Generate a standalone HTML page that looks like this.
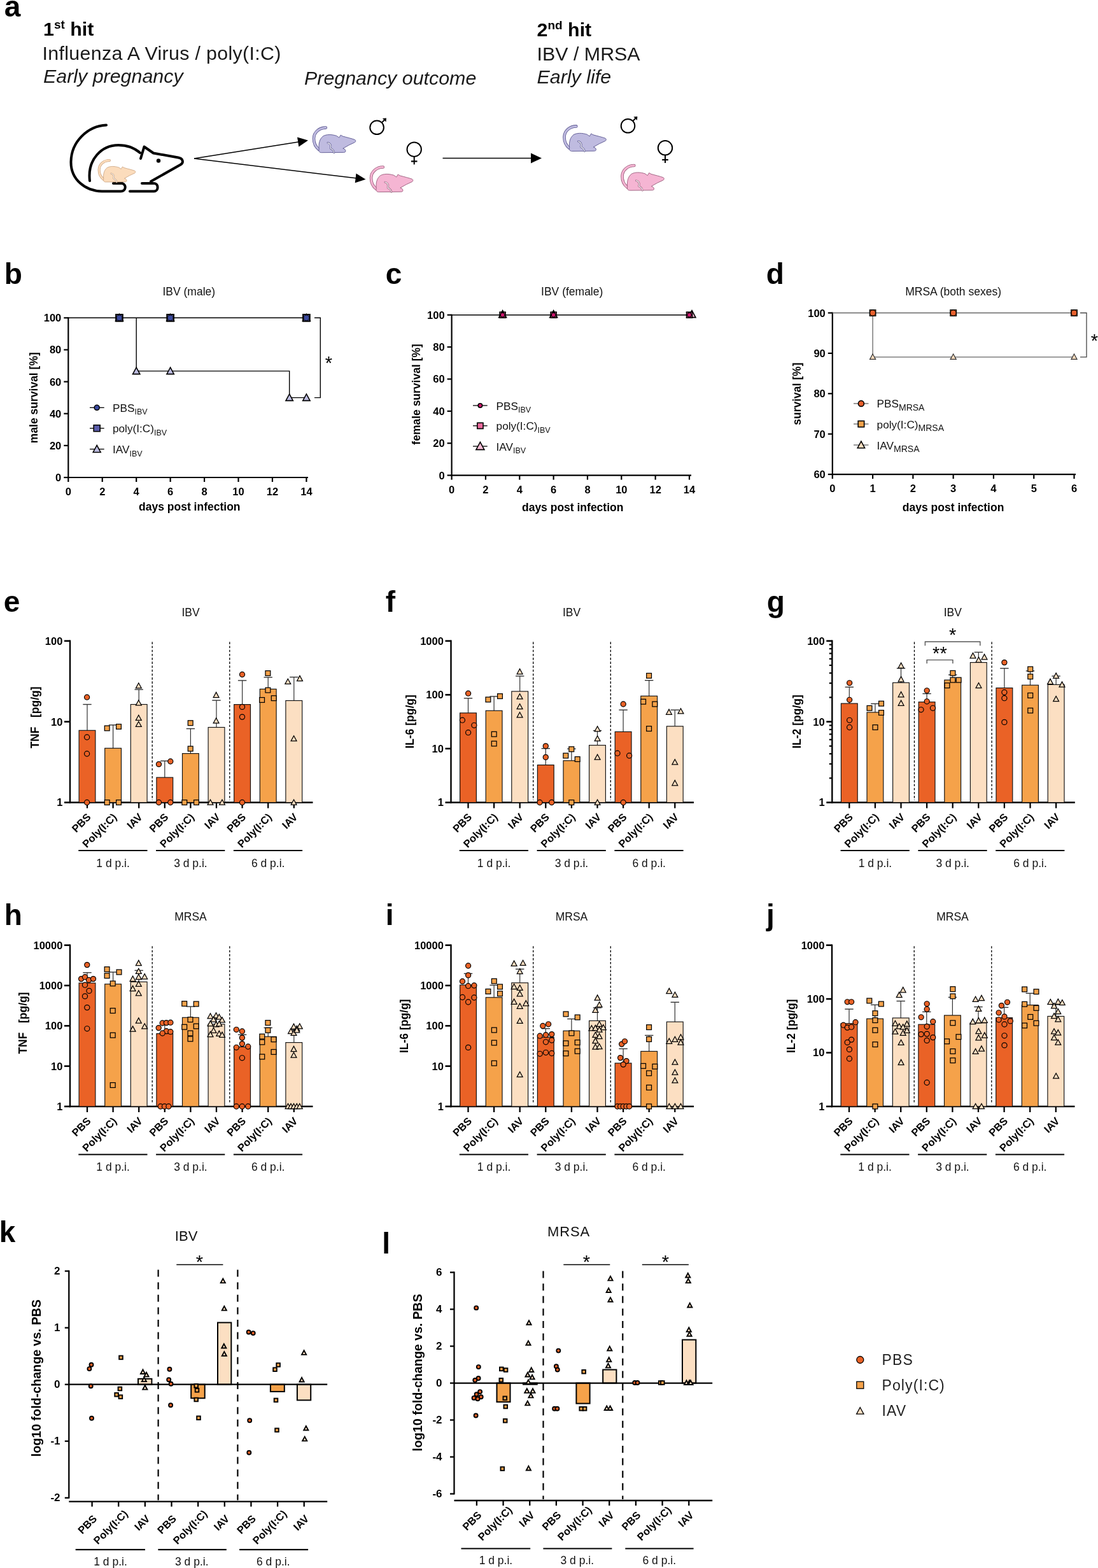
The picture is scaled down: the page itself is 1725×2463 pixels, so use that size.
<!DOCTYPE html>
<html><head><meta charset="utf-8"><title>Figure</title>
<style>
html,body{margin:0;padding:0;background:#fff;}
body{width:1725px;height:2463px;overflow:hidden;}
svg{display:block;}
text{white-space:pre;}
</style></head><body>
<svg width="1725" height="2463" viewBox="0 0 1725 2463" font-family="'Liberation Sans', Arial, sans-serif">
<rect x="0" y="0" width="1725" height="2463" fill="#fff"/>
<text x="6.8" y="26" font-size="46" font-weight="bold">a</text>
<text x="68" y="56" font-size="30.4" font-weight="bold">1<tspan font-size="19" dy="-11">st</tspan><tspan dy="11"> hit</tspan></text>
<text x="66.5" y="94" font-size="30.4" fill="#1a1a1a" letter-spacing="0.32">Influenza A Virus / poly(I:C)</text>
<text x="68" y="130" font-size="30.4" font-style="italic" fill="#1a1a1a">Early pregnancy</text>
<text x="478" y="132.6" font-size="30.4" font-style="italic" fill="#1a1a1a">Pregnancy outcome</text>
<text x="843.5" y="56.6" font-size="30.4" font-weight="bold">2<tspan font-size="19" dy="-11">nd</tspan><tspan dy="11"> hit</tspan></text>
<text x="843.5" y="94.6" font-size="30.4" fill="#1a1a1a">IBV / MRSA</text>
<text x="843.5" y="131" font-size="30.4" font-style="italic" fill="#1a1a1a">Early life</text>
<path d="M167,196.5 C138,198 112,222 111.5,254 C111,282 134,300 160,300.5 L190,300.5 C198,300.5 199,290 192,288 L178,288" fill="none" stroke="#000" stroke-width="4" stroke-linecap="round" stroke-linejoin="round"/>
<path d="M141,284 C137,250 160,228 186,228 C200,228 212,233 220,240" fill="none" stroke="#000" stroke-width="4" stroke-linecap="round" stroke-linejoin="round"/>
<path d="M221,249 L226.5,230.5 L241,240.5 L280,247.5 C288,249 289,256 283,259 L237,285" fill="none" stroke="#000" stroke-width="4" stroke-linecap="round" stroke-linejoin="round"/>
<path d="M223,288 L242,288 C249,288 250,300 242,300.5 L204,300.5" fill="none" stroke="#000" stroke-width="4" stroke-linecap="round" stroke-linejoin="round"/>
<circle cx="249" cy="252.5" r="3.2" fill="#000"/>
<g transform="translate(153 250) scale(0.87 0.87)"><path d="M21.8,2.2 C12,2.2 3.2,9 3,19 C2.9,27 6.5,33 11,36.4" fill="none" stroke="#C9A07C" stroke-width="4.6" stroke-linecap="round"/><path d="M21.8,2.2 C12,2.2 3.2,9 3,19 C2.9,27 6.5,33 11,36.4" fill="none" stroke="#FBDCBC" stroke-width="3.0" stroke-linecap="round"/><path d="M11.2,35.6 C10.2,27 12.2,19.8 17.4,15.6 C22.5,12.4 31,12.4 38.8,15 L42.8,17.8 L45.2,13.7 L48.4,15.6 C55,17.5 62,19 67.4,21 C69.4,22 69.2,24.6 66.6,25.6 L58.2,29.5 L48.8,34.8 C51.8,35.4 53.4,37.6 52.8,39.6 C52.3,40.7 51.4,41 49.8,41 L15.2,41.3 C12.2,41.3 10.2,39.6 11.2,35.6 Z" fill="#FBDCBC" stroke="#C9A07C" stroke-width="0.9"/><path d="M24.9,25.9 C27.5,26.5 29.5,28.5 29.8,31.2 L29.2,34.6 L32,36.4 C33.6,37.4 34.5,39 34.8,41.4" fill="none" stroke="#C9A07C" stroke-width="2.7" stroke-linecap="round" stroke-linejoin="round"/><path d="M24.9,25.9 C27.5,26.5 29.5,28.5 29.8,31.2 L29.2,34.6 L32,36.4 C33.6,37.4 34.5,39 34.8,41.4" fill="none" stroke="#f4f4f4" stroke-width="1.3" stroke-linecap="round" stroke-linejoin="round"/></g>
<g transform="translate(490 198.4) scale(1 1)"><path d="M21.8,2.2 C12,2.2 3.2,9 3,19 C2.9,27 6.5,33 11,36.4" fill="none" stroke="#5A5690" stroke-width="4.6" stroke-linecap="round"/><path d="M21.8,2.2 C12,2.2 3.2,9 3,19 C2.9,27 6.5,33 11,36.4" fill="none" stroke="#BFBBE0" stroke-width="3.0" stroke-linecap="round"/><path d="M11.2,35.6 C10.2,27 12.2,19.8 17.4,15.6 C22.5,12.4 31,12.4 38.8,15 L42.8,17.8 L45.2,13.7 L48.4,15.6 C55,17.5 62,19 67.4,21 C69.4,22 69.2,24.6 66.6,25.6 L58.2,29.5 L48.8,34.8 C51.8,35.4 53.4,37.6 52.8,39.6 C52.3,40.7 51.4,41 49.8,41 L15.2,41.3 C12.2,41.3 10.2,39.6 11.2,35.6 Z" fill="#BFBBE0" stroke="#5A5690" stroke-width="0.9"/><path d="M24.9,25.9 C27.5,26.5 29.5,28.5 29.8,31.2 L29.2,34.6 L32,36.4 C33.6,37.4 34.5,39 34.8,41.4" fill="none" stroke="#5A5690" stroke-width="2.7" stroke-linecap="round" stroke-linejoin="round"/><path d="M24.9,25.9 C27.5,26.5 29.5,28.5 29.8,31.2 L29.2,34.6 L32,36.4 C33.6,37.4 34.5,39 34.8,41.4" fill="none" stroke="#f4f4f4" stroke-width="1.3" stroke-linecap="round" stroke-linejoin="round"/></g>
<g transform="translate(580 260.3) scale(1 1)"><path d="M21.8,2.2 C12,2.2 3.2,9 3,19 C2.9,27 6.5,33 11,36.4" fill="none" stroke="#9A5A7A" stroke-width="4.6" stroke-linecap="round"/><path d="M21.8,2.2 C12,2.2 3.2,9 3,19 C2.9,27 6.5,33 11,36.4" fill="none" stroke="#F5B5D3" stroke-width="3.0" stroke-linecap="round"/><path d="M11.2,35.6 C10.2,27 12.2,19.8 17.4,15.6 C22.5,12.4 31,12.4 38.8,15 L42.8,17.8 L45.2,13.7 L48.4,15.6 C55,17.5 62,19 67.4,21 C69.4,22 69.2,24.6 66.6,25.6 L58.2,29.5 L48.8,34.8 C51.8,35.4 53.4,37.6 52.8,39.6 C52.3,40.7 51.4,41 49.8,41 L15.2,41.3 C12.2,41.3 10.2,39.6 11.2,35.6 Z" fill="#F5B5D3" stroke="#9A5A7A" stroke-width="0.9"/><path d="M24.9,25.9 C27.5,26.5 29.5,28.5 29.8,31.2 L29.2,34.6 L32,36.4 C33.6,37.4 34.5,39 34.8,41.4" fill="none" stroke="#9A5A7A" stroke-width="2.7" stroke-linecap="round" stroke-linejoin="round"/><path d="M24.9,25.9 C27.5,26.5 29.5,28.5 29.8,31.2 L29.2,34.6 L32,36.4 C33.6,37.4 34.5,39 34.8,41.4" fill="none" stroke="#f4f4f4" stroke-width="1.3" stroke-linecap="round" stroke-linejoin="round"/></g>
<g transform="translate(883.5 196.2) scale(1 1)"><path d="M21.8,2.2 C12,2.2 3.2,9 3,19 C2.9,27 6.5,33 11,36.4" fill="none" stroke="#5A5690" stroke-width="4.6" stroke-linecap="round"/><path d="M21.8,2.2 C12,2.2 3.2,9 3,19 C2.9,27 6.5,33 11,36.4" fill="none" stroke="#BFBBE0" stroke-width="3.0" stroke-linecap="round"/><path d="M11.2,35.6 C10.2,27 12.2,19.8 17.4,15.6 C22.5,12.4 31,12.4 38.8,15 L42.8,17.8 L45.2,13.7 L48.4,15.6 C55,17.5 62,19 67.4,21 C69.4,22 69.2,24.6 66.6,25.6 L58.2,29.5 L48.8,34.8 C51.8,35.4 53.4,37.6 52.8,39.6 C52.3,40.7 51.4,41 49.8,41 L15.2,41.3 C12.2,41.3 10.2,39.6 11.2,35.6 Z" fill="#BFBBE0" stroke="#5A5690" stroke-width="0.9"/><path d="M24.9,25.9 C27.5,26.5 29.5,28.5 29.8,31.2 L29.2,34.6 L32,36.4 C33.6,37.4 34.5,39 34.8,41.4" fill="none" stroke="#5A5690" stroke-width="2.7" stroke-linecap="round" stroke-linejoin="round"/><path d="M24.9,25.9 C27.5,26.5 29.5,28.5 29.8,31.2 L29.2,34.6 L32,36.4 C33.6,37.4 34.5,39 34.8,41.4" fill="none" stroke="#f4f4f4" stroke-width="1.3" stroke-linecap="round" stroke-linejoin="round"/></g>
<g transform="translate(974.5 257.8) scale(1 1)"><path d="M21.8,2.2 C12,2.2 3.2,9 3,19 C2.9,27 6.5,33 11,36.4" fill="none" stroke="#9A5A7A" stroke-width="4.6" stroke-linecap="round"/><path d="M21.8,2.2 C12,2.2 3.2,9 3,19 C2.9,27 6.5,33 11,36.4" fill="none" stroke="#F5B5D3" stroke-width="3.0" stroke-linecap="round"/><path d="M11.2,35.6 C10.2,27 12.2,19.8 17.4,15.6 C22.5,12.4 31,12.4 38.8,15 L42.8,17.8 L45.2,13.7 L48.4,15.6 C55,17.5 62,19 67.4,21 C69.4,22 69.2,24.6 66.6,25.6 L58.2,29.5 L48.8,34.8 C51.8,35.4 53.4,37.6 52.8,39.6 C52.3,40.7 51.4,41 49.8,41 L15.2,41.3 C12.2,41.3 10.2,39.6 11.2,35.6 Z" fill="#F5B5D3" stroke="#9A5A7A" stroke-width="0.9"/><path d="M24.9,25.9 C27.5,26.5 29.5,28.5 29.8,31.2 L29.2,34.6 L32,36.4 C33.6,37.4 34.5,39 34.8,41.4" fill="none" stroke="#9A5A7A" stroke-width="2.7" stroke-linecap="round" stroke-linejoin="round"/><path d="M24.9,25.9 C27.5,26.5 29.5,28.5 29.8,31.2 L29.2,34.6 L32,36.4 C33.6,37.4 34.5,39 34.8,41.4" fill="none" stroke="#f4f4f4" stroke-width="1.3" stroke-linecap="round" stroke-linejoin="round"/></g>
<line x1="305" y1="249" x2="470.17" y2="222.7" stroke="#000" stroke-width="1.5"/>
<polygon points="484,220.5 469.38,230.42 467.02,215.61" fill="#000"/>
<line x1="305" y1="249" x2="560.6" y2="280.11" stroke="#000" stroke-width="1.5"/>
<polygon points="574.5,281.8 557.71,287.31 559.52,272.42" fill="#000"/>
<line x1="695.5" y1="248.4" x2="836" y2="248.4" stroke="#000" stroke-width="1.5"/>
<polygon points="851,248.4 834,256.4 834,240.4" fill="#000"/>
<circle cx="592.1" cy="200.3" r="10.8" fill="none" stroke="#000" stroke-width="2"/>
<line x1="599.74" y1="192.66" x2="603.95" y2="188.45" stroke="#000" stroke-width="2"/>
<polygon points="606.95,185.45 600.95,185.95 606.45,191.45" fill="#000"/>
<circle cx="650.7" cy="234.7" r="11.2" fill="none" stroke="#000" stroke-width="2"/>
<line x1="650.7" y1="245.9" x2="650.7" y2="258.4" stroke="#000" stroke-width="2"/>
<line x1="645.9" y1="253.4" x2="655.5" y2="253.4" stroke="#000" stroke-width="2.2"/>
<circle cx="986.5" cy="197.8" r="10.8" fill="none" stroke="#000" stroke-width="2"/>
<line x1="994.14" y1="190.16" x2="998.35" y2="185.95" stroke="#000" stroke-width="2"/>
<polygon points="1001.35,182.95 995.35,183.45 1000.85,188.95" fill="#000"/>
<circle cx="1045" cy="232.3" r="11.2" fill="none" stroke="#000" stroke-width="2"/>
<line x1="1045" y1="243.5" x2="1045" y2="256" stroke="#000" stroke-width="2"/>
<line x1="1040.2" y1="251" x2="1049.8" y2="251" stroke="#000" stroke-width="2.2"/>
<text x="6.8" y="446.3" font-size="46" font-weight="bold">b</text>
<line x1="107.3" y1="498.3" x2="107.3" y2="751" stroke="#000" stroke-width="2.2"/>
<line x1="106.3" y1="750" x2="484" y2="750" stroke="#000" stroke-width="2.2"/>
<line x1="100.3" y1="750" x2="107.3" y2="750" stroke="#000" stroke-width="2.2"/>
<text x="96.3" y="756" font-size="16.5" font-weight="bold" text-anchor="end">0</text>
<line x1="100.3" y1="699.86" x2="107.3" y2="699.86" stroke="#000" stroke-width="2.2"/>
<text x="96.3" y="705.86" font-size="16.5" font-weight="bold" text-anchor="end">20</text>
<line x1="100.3" y1="649.72" x2="107.3" y2="649.72" stroke="#000" stroke-width="2.2"/>
<text x="96.3" y="655.72" font-size="16.5" font-weight="bold" text-anchor="end">40</text>
<line x1="100.3" y1="599.58" x2="107.3" y2="599.58" stroke="#000" stroke-width="2.2"/>
<text x="96.3" y="605.58" font-size="16.5" font-weight="bold" text-anchor="end">60</text>
<line x1="100.3" y1="549.44" x2="107.3" y2="549.44" stroke="#000" stroke-width="2.2"/>
<text x="96.3" y="555.44" font-size="16.5" font-weight="bold" text-anchor="end">80</text>
<line x1="100.3" y1="499.3" x2="107.3" y2="499.3" stroke="#000" stroke-width="2.2"/>
<text x="96.3" y="505.3" font-size="16.5" font-weight="bold" text-anchor="end">100</text>
<line x1="107.3" y1="750" x2="107.3" y2="757" stroke="#000" stroke-width="2.2"/>
<text x="107.3" y="778" font-size="16.5" font-weight="bold" text-anchor="middle">0</text>
<line x1="160.74" y1="750" x2="160.74" y2="757" stroke="#000" stroke-width="2.2"/>
<text x="160.74" y="778" font-size="16.5" font-weight="bold" text-anchor="middle">2</text>
<line x1="214.19" y1="750" x2="214.19" y2="757" stroke="#000" stroke-width="2.2"/>
<text x="214.19" y="778" font-size="16.5" font-weight="bold" text-anchor="middle">4</text>
<line x1="267.63" y1="750" x2="267.63" y2="757" stroke="#000" stroke-width="2.2"/>
<text x="267.63" y="778" font-size="16.5" font-weight="bold" text-anchor="middle">6</text>
<line x1="321.07" y1="750" x2="321.07" y2="757" stroke="#000" stroke-width="2.2"/>
<text x="321.07" y="778" font-size="16.5" font-weight="bold" text-anchor="middle">8</text>
<line x1="374.51" y1="750" x2="374.51" y2="757" stroke="#000" stroke-width="2.2"/>
<text x="374.51" y="778" font-size="16.5" font-weight="bold" text-anchor="middle">10</text>
<line x1="427.96" y1="750" x2="427.96" y2="757" stroke="#000" stroke-width="2.2"/>
<text x="427.96" y="778" font-size="16.5" font-weight="bold" text-anchor="middle">12</text>
<line x1="481.4" y1="750" x2="481.4" y2="757" stroke="#000" stroke-width="2.2"/>
<text x="481.4" y="778" font-size="16.5" font-weight="bold" text-anchor="middle">14</text>
<text x="59" y="624.7" font-size="17.5" font-weight="bold" text-anchor="middle" transform="rotate(-90 59 624.7)">male survival [%]</text>
<text x="296.8" y="464.4" font-size="17.5" text-anchor="middle" fill="#111">IBV (male)</text>
<text x="297.8" y="802.3" font-size="17.5" font-weight="bold" text-anchor="middle">days post infection</text>
<line x1="107.3" y1="499.3" x2="481.4" y2="499.3" stroke="#000" stroke-width="1.4"/>
<path d="M214.19,499.3 L214.19,582.86 L454.68,582.86 L454.68,624.65 L481.4,624.65 L481.4,624.65" fill="none" stroke="#000" stroke-width="1.4"/>
<polygon points="187.46,493.25 193.4,504.25 181.52,504.25" fill="#BDBCE0" stroke="#000" stroke-width="1.5" stroke-linejoin="miter"/>
<rect x="182.21" y="494.05" width="10.5" height="10.5" fill="#5B5DAA" stroke="#000" stroke-width="2.2"/>
<circle cx="187.46" cy="499.3" r="4.3" fill="#3B4A9E" stroke="#000" stroke-width="0.8"/>
<polygon points="267.63,493.25 273.57,504.25 261.69,504.25" fill="#BDBCE0" stroke="#000" stroke-width="1.5" stroke-linejoin="miter"/>
<rect x="262.38" y="494.05" width="10.5" height="10.5" fill="#5B5DAA" stroke="#000" stroke-width="2.2"/>
<circle cx="267.63" cy="499.3" r="4.3" fill="#3B4A9E" stroke="#000" stroke-width="0.8"/>
<polygon points="481.4,493.25 487.34,504.25 475.46,504.25" fill="#BDBCE0" stroke="#000" stroke-width="1.5" stroke-linejoin="miter"/>
<rect x="476.15" y="494.05" width="10.5" height="10.5" fill="#5B5DAA" stroke="#000" stroke-width="2.2"/>
<circle cx="481.4" cy="499.3" r="4.3" fill="#3B4A9E" stroke="#000" stroke-width="0.8"/>
<polygon points="214.19,577.08 219.86,587.58 208.52,587.58" fill="#BDBCE0" stroke="#000" stroke-width="1.6" stroke-linejoin="miter"/>
<polygon points="267.63,577.08 273.3,587.58 261.96,587.58" fill="#BDBCE0" stroke="#000" stroke-width="1.6" stroke-linejoin="miter"/>
<polygon points="454.68,618.88 460.35,629.38 449.01,629.38" fill="#BDBCE0" stroke="#000" stroke-width="1.6" stroke-linejoin="miter"/>
<polygon points="481.4,618.88 487.07,629.38 475.73,629.38" fill="#BDBCE0" stroke="#000" stroke-width="1.6" stroke-linejoin="miter"/>
<path d="M494,499.3 L503.3,499.3 L503.3,624.65 L494,624.65" fill="none" stroke="#000" stroke-width="1.4"/>
<text x="516.5" y="580" font-size="29" text-anchor="middle">*</text>
<line x1="141" y1="640.3" x2="163.7" y2="640.3" stroke="#000" stroke-width="1.3"/>
<circle cx="152.2" cy="640.3" r="4" fill="#3B4A9E" stroke="#000" stroke-width="1.6"/>
<text x="177" y="646.8" font-size="17.2" fill="#111">PBS<tspan font-size="12.5" dy="4.5">IBV</tspan></text>
<line x1="141" y1="672.7" x2="163.7" y2="672.7" stroke="#000" stroke-width="1.3"/>
<rect x="147.2" y="667.7" width="10" height="10" fill="#5B5DAA" stroke="#000" stroke-width="1.6"/>
<text x="177" y="679.2" font-size="17.2" fill="#111">poly(I:C)<tspan font-size="12.5" dy="4.5">IBV</tspan></text>
<line x1="141" y1="705.5" x2="163.7" y2="705.5" stroke="#000" stroke-width="1.3"/>
<polygon points="152.2,699.45 158.14,710.45 146.26,710.45" fill="#BDBCE0" stroke="#000" stroke-width="1.6" stroke-linejoin="miter"/>
<text x="177" y="712" font-size="17.2" fill="#111">IAV<tspan font-size="12.5" dy="4.5">IBV</tspan></text>
<text x="605.8" y="445.6" font-size="46" font-weight="bold">c</text>
<line x1="709.6" y1="493.7" x2="709.6" y2="747.6" stroke="#000" stroke-width="2.2"/>
<line x1="708.6" y1="746.6" x2="1086" y2="746.6" stroke="#000" stroke-width="2.2"/>
<line x1="702.6" y1="746.6" x2="709.6" y2="746.6" stroke="#000" stroke-width="2.2"/>
<text x="698.6" y="752.6" font-size="16.5" font-weight="bold" text-anchor="end">0</text>
<line x1="702.6" y1="696.22" x2="709.6" y2="696.22" stroke="#000" stroke-width="2.2"/>
<text x="698.6" y="702.22" font-size="16.5" font-weight="bold" text-anchor="end">20</text>
<line x1="702.6" y1="645.84" x2="709.6" y2="645.84" stroke="#000" stroke-width="2.2"/>
<text x="698.6" y="651.84" font-size="16.5" font-weight="bold" text-anchor="end">40</text>
<line x1="702.6" y1="595.46" x2="709.6" y2="595.46" stroke="#000" stroke-width="2.2"/>
<text x="698.6" y="601.46" font-size="16.5" font-weight="bold" text-anchor="end">60</text>
<line x1="702.6" y1="545.08" x2="709.6" y2="545.08" stroke="#000" stroke-width="2.2"/>
<text x="698.6" y="551.08" font-size="16.5" font-weight="bold" text-anchor="end">80</text>
<line x1="702.6" y1="494.7" x2="709.6" y2="494.7" stroke="#000" stroke-width="2.2"/>
<text x="698.6" y="500.7" font-size="16.5" font-weight="bold" text-anchor="end">100</text>
<line x1="709.6" y1="746.6" x2="709.6" y2="753.6" stroke="#000" stroke-width="2.2"/>
<text x="709.6" y="774.6" font-size="16.5" font-weight="bold" text-anchor="middle">0</text>
<line x1="762.94" y1="746.6" x2="762.94" y2="753.6" stroke="#000" stroke-width="2.2"/>
<text x="762.94" y="774.6" font-size="16.5" font-weight="bold" text-anchor="middle">2</text>
<line x1="816.29" y1="746.6" x2="816.29" y2="753.6" stroke="#000" stroke-width="2.2"/>
<text x="816.29" y="774.6" font-size="16.5" font-weight="bold" text-anchor="middle">4</text>
<line x1="869.63" y1="746.6" x2="869.63" y2="753.6" stroke="#000" stroke-width="2.2"/>
<text x="869.63" y="774.6" font-size="16.5" font-weight="bold" text-anchor="middle">6</text>
<line x1="922.97" y1="746.6" x2="922.97" y2="753.6" stroke="#000" stroke-width="2.2"/>
<text x="922.97" y="774.6" font-size="16.5" font-weight="bold" text-anchor="middle">8</text>
<line x1="976.31" y1="746.6" x2="976.31" y2="753.6" stroke="#000" stroke-width="2.2"/>
<text x="976.31" y="774.6" font-size="16.5" font-weight="bold" text-anchor="middle">10</text>
<line x1="1029.66" y1="746.6" x2="1029.66" y2="753.6" stroke="#000" stroke-width="2.2"/>
<text x="1029.66" y="774.6" font-size="16.5" font-weight="bold" text-anchor="middle">12</text>
<line x1="1083" y1="746.6" x2="1083" y2="753.6" stroke="#000" stroke-width="2.2"/>
<text x="1083" y="774.6" font-size="16.5" font-weight="bold" text-anchor="middle">14</text>
<text x="660.5" y="619.4" font-size="17.5" font-weight="bold" text-anchor="middle" transform="rotate(-90 660.5 619.4)">female survival [%]</text>
<text x="898.7" y="464.4" font-size="17.5" text-anchor="middle" fill="#111">IBV (female)</text>
<text x="899.7" y="803" font-size="17.5" font-weight="bold" text-anchor="middle">days post infection</text>
<line x1="709.6" y1="494.7" x2="1083" y2="494.7" stroke="#000" stroke-width="1.4"/>
<polygon points="789.61,487.65 795.55,498.65 783.67,498.65" fill="#F6BCD5" stroke="#000" stroke-width="1.6" stroke-linejoin="miter"/>
<rect x="785.11" y="490.2" width="9" height="9" fill="#EC6A9D" stroke="#000" stroke-width="1.6"/>
<circle cx="789.61" cy="494.7" r="3.25" fill="#D0176F" stroke="#000" stroke-width="1.2"/>
<polygon points="869.63,487.65 875.57,498.65 863.69,498.65" fill="#F6BCD5" stroke="#000" stroke-width="1.6" stroke-linejoin="miter"/>
<rect x="865.13" y="490.2" width="9" height="9" fill="#EC6A9D" stroke="#000" stroke-width="1.6"/>
<circle cx="869.63" cy="494.7" r="3.25" fill="#D0176F" stroke="#000" stroke-width="1.2"/>
<polygon points="1087,487.65 1092.94,498.65 1081.06,498.65" fill="#F6BCD5" stroke="#000" stroke-width="1.6" stroke-linejoin="miter"/>
<rect x="1078.5" y="490.2" width="9" height="9" fill="#EC6A9D" stroke="#000" stroke-width="1.6"/>
<circle cx="1083" cy="494.7" r="3.25" fill="#D0176F" stroke="#000" stroke-width="1.2"/>
<line x1="743" y1="637" x2="765.7" y2="637" stroke="#000" stroke-width="1.3"/>
<circle cx="754.4" cy="637" r="3.25" fill="#D0176F" stroke="#000" stroke-width="1.6"/>
<text x="779.6" y="643.5" font-size="17.2" fill="#111">PBS<tspan font-size="12.5" dy="4.5">IBV</tspan></text>
<line x1="743" y1="668.8" x2="765.7" y2="668.8" stroke="#000" stroke-width="1.3"/>
<rect x="749.8" y="664.2" width="9.2" height="9.2" fill="#EC6A9D" stroke="#000" stroke-width="1.6"/>
<text x="779.6" y="675.3" font-size="17.2" fill="#111">poly(I:C)<tspan font-size="12.5" dy="4.5">IBV</tspan></text>
<line x1="743" y1="701" x2="765.7" y2="701" stroke="#000" stroke-width="1.3"/>
<polygon points="754.4,694.4 760.88,706.4 747.92,706.4" fill="#F6BCD5" stroke="#000" stroke-width="1.6" stroke-linejoin="miter"/>
<text x="779.6" y="707.5" font-size="17.2" fill="#111">IAV<tspan font-size="12.5" dy="4.5">IBV</tspan></text>
<text x="1203.8" y="446" font-size="46" font-weight="bold">d</text>
<line x1="1307.8" y1="490.5" x2="1307.8" y2="746.1" stroke="#000" stroke-width="2.2"/>
<line x1="1306.8" y1="745.1" x2="1690" y2="745.1" stroke="#000" stroke-width="2.2"/>
<line x1="1300.8" y1="745.1" x2="1307.8" y2="745.1" stroke="#000" stroke-width="2.2"/>
<text x="1296.8" y="751.1" font-size="16.5" font-weight="bold" text-anchor="end">60</text>
<line x1="1300.8" y1="681.7" x2="1307.8" y2="681.7" stroke="#000" stroke-width="2.2"/>
<text x="1296.8" y="687.7" font-size="16.5" font-weight="bold" text-anchor="end">70</text>
<line x1="1300.8" y1="618.3" x2="1307.8" y2="618.3" stroke="#000" stroke-width="2.2"/>
<text x="1296.8" y="624.3" font-size="16.5" font-weight="bold" text-anchor="end">80</text>
<line x1="1300.8" y1="554.9" x2="1307.8" y2="554.9" stroke="#000" stroke-width="2.2"/>
<text x="1296.8" y="560.9" font-size="16.5" font-weight="bold" text-anchor="end">90</text>
<line x1="1300.8" y1="491.5" x2="1307.8" y2="491.5" stroke="#000" stroke-width="2.2"/>
<text x="1296.8" y="497.5" font-size="16.5" font-weight="bold" text-anchor="end">100</text>
<line x1="1307.8" y1="745.1" x2="1307.8" y2="752.1" stroke="#000" stroke-width="2.2"/>
<text x="1307.8" y="773.1" font-size="16.5" font-weight="bold" text-anchor="middle">0</text>
<line x1="1371.08" y1="745.1" x2="1371.08" y2="752.1" stroke="#000" stroke-width="2.2"/>
<text x="1371.08" y="773.1" font-size="16.5" font-weight="bold" text-anchor="middle">1</text>
<line x1="1434.37" y1="745.1" x2="1434.37" y2="752.1" stroke="#000" stroke-width="2.2"/>
<text x="1434.37" y="773.1" font-size="16.5" font-weight="bold" text-anchor="middle">2</text>
<line x1="1497.65" y1="745.1" x2="1497.65" y2="752.1" stroke="#000" stroke-width="2.2"/>
<text x="1497.65" y="773.1" font-size="16.5" font-weight="bold" text-anchor="middle">3</text>
<line x1="1560.93" y1="745.1" x2="1560.93" y2="752.1" stroke="#000" stroke-width="2.2"/>
<text x="1560.93" y="773.1" font-size="16.5" font-weight="bold" text-anchor="middle">4</text>
<line x1="1624.22" y1="745.1" x2="1624.22" y2="752.1" stroke="#000" stroke-width="2.2"/>
<text x="1624.22" y="773.1" font-size="16.5" font-weight="bold" text-anchor="middle">5</text>
<line x1="1687.5" y1="745.1" x2="1687.5" y2="752.1" stroke="#000" stroke-width="2.2"/>
<text x="1687.5" y="773.1" font-size="16.5" font-weight="bold" text-anchor="middle">6</text>
<text x="1258.5" y="618.6" font-size="17.5" font-weight="bold" text-anchor="middle" transform="rotate(-90 1258.5 618.6)">survival [%]</text>
<text x="1497.6" y="464.4" font-size="17.5" text-anchor="middle" fill="#111">MRSA (both sexes)</text>
<text x="1497.6" y="802.7" font-size="17.5" font-weight="bold" text-anchor="middle">days post infection</text>
<line x1="1307.8" y1="491.5" x2="1687.5" y2="491.5" stroke="#666" stroke-width="1.3"/>
<path d="M1371.08,491.5 L1371.08,560.92 L1687.5,560.92" fill="none" stroke="#666" stroke-width="1.3"/>
<rect x="1366.33" y="486.75" width="9.5" height="9.5" fill="#F5A24A" stroke="#000" stroke-width="1.3"/>
<circle cx="1371.08" cy="491.5" r="4.5" fill="#E8602C" stroke="#000" stroke-width="1.2"/>
<polygon points="1371.08,556 1375.62,564.4 1366.55,564.4" fill="#FBDDBF" stroke="#333" stroke-width="1.2" stroke-linejoin="miter"/>
<rect x="1492.9" y="486.75" width="9.5" height="9.5" fill="#F5A24A" stroke="#000" stroke-width="1.3"/>
<circle cx="1497.65" cy="491.5" r="4.5" fill="#E8602C" stroke="#000" stroke-width="1.2"/>
<polygon points="1497.65,556 1502.19,564.4 1493.11,564.4" fill="#FBDDBF" stroke="#333" stroke-width="1.2" stroke-linejoin="miter"/>
<rect x="1682.75" y="486.75" width="9.5" height="9.5" fill="#F5A24A" stroke="#000" stroke-width="1.3"/>
<circle cx="1687.5" cy="491.5" r="4.5" fill="#E8602C" stroke="#000" stroke-width="1.2"/>
<polygon points="1687.5,556 1692.04,564.4 1682.96,564.4" fill="#FBDDBF" stroke="#333" stroke-width="1.2" stroke-linejoin="miter"/>
<path d="M1697,491.5 L1707,491.5 L1707,560.92 L1697,560.92" fill="none" stroke="#444" stroke-width="1.3"/>
<text x="1719.5" y="544.8" font-size="29" text-anchor="middle">*</text>
<line x1="1341" y1="633.9" x2="1364.5" y2="633.9" stroke="#555" stroke-width="1.2"/>
<circle cx="1352.9" cy="633.9" r="4.5" fill="#E8602C" stroke="#000" stroke-width="1.6"/>
<text x="1377.6" y="640.4" font-size="17.2" fill="#111">PBS<tspan font-size="14" dy="4.5">MRSA</tspan></text>
<line x1="1341" y1="666" x2="1364.5" y2="666" stroke="#555" stroke-width="1.2"/>
<rect x="1348.15" y="661.25" width="9.5" height="9.5" fill="#F5A24A" stroke="#000" stroke-width="1.6"/>
<text x="1377.6" y="672.5" font-size="17.2" fill="#111">poly(I:C)<tspan font-size="14" dy="4.5">MRSA</tspan></text>
<line x1="1341" y1="699" x2="1364.5" y2="699" stroke="#555" stroke-width="1.2"/>
<polygon points="1352.9,693.23 1358.57,703.73 1347.23,703.73" fill="#FBDDBF" stroke="#000" stroke-width="1.6" stroke-linejoin="miter"/>
<text x="1377.6" y="705.5" font-size="17.2" fill="#111">IAV<tspan font-size="14" dy="4.5">MRSA</tspan></text>
<text x="5.8" y="961.4" font-size="46" font-weight="bold">e</text>
<line x1="101" y1="1260.5" x2="110" y2="1260.5" stroke="#000" stroke-width="2.6"/>
<text x="98.4" y="1266.4" font-size="16.5" font-weight="bold" text-anchor="end">1</text>
<line x1="101" y1="1133.65" x2="110" y2="1133.65" stroke="#000" stroke-width="2.6"/>
<text x="98.4" y="1139.55" font-size="16.5" font-weight="bold" text-anchor="end">10</text>
<line x1="101" y1="1006.8" x2="110" y2="1006.8" stroke="#000" stroke-width="2.6"/>
<text x="98.4" y="1012.7" font-size="16.5" font-weight="bold" text-anchor="end">100</text>
<line x1="239.2" y1="1008.3" x2="239.2" y2="1257" stroke="#000" stroke-width="1.3" stroke-dasharray="3.6 2.6"/>
<line x1="360.8" y1="1008.3" x2="360.8" y2="1257" stroke="#000" stroke-width="1.3" stroke-dasharray="3.6 2.6"/>
<line x1="110" y1="1005.6" x2="110" y2="1261.7" stroke="#000" stroke-width="2.4"/>
<line x1="108.8" y1="1260.5" x2="491.5" y2="1260.5" stroke="#000" stroke-width="2.4"/>
<line x1="137" y1="1260.5" x2="137" y2="1269.5" stroke="#000" stroke-width="2.3"/>
<text x="143.7" y="1284.5" font-size="16.5" font-weight="bold" text-anchor="end" transform="rotate(-45 143.7 1284.5)">PBS</text>
<line x1="177.6" y1="1260.5" x2="177.6" y2="1269.5" stroke="#000" stroke-width="2.3"/>
<text x="184.3" y="1284.5" font-size="16.5" font-weight="bold" text-anchor="end" transform="rotate(-45 184.3 1284.5)">Poly(I:C)</text>
<line x1="218.2" y1="1260.5" x2="218.2" y2="1269.5" stroke="#000" stroke-width="2.3"/>
<text x="224.9" y="1284.5" font-size="16.5" font-weight="bold" text-anchor="end" transform="rotate(-45 224.9 1284.5)">IAV</text>
<line x1="258.8" y1="1260.5" x2="258.8" y2="1269.5" stroke="#000" stroke-width="2.3"/>
<text x="265.5" y="1284.5" font-size="16.5" font-weight="bold" text-anchor="end" transform="rotate(-45 265.5 1284.5)">PBS</text>
<line x1="299.4" y1="1260.5" x2="299.4" y2="1269.5" stroke="#000" stroke-width="2.3"/>
<text x="306.1" y="1284.5" font-size="16.5" font-weight="bold" text-anchor="end" transform="rotate(-45 306.1 1284.5)">Poly(I:C)</text>
<line x1="340" y1="1260.5" x2="340" y2="1269.5" stroke="#000" stroke-width="2.3"/>
<text x="346.7" y="1284.5" font-size="16.5" font-weight="bold" text-anchor="end" transform="rotate(-45 346.7 1284.5)">IAV</text>
<line x1="380.6" y1="1260.5" x2="380.6" y2="1269.5" stroke="#000" stroke-width="2.3"/>
<text x="387.3" y="1284.5" font-size="16.5" font-weight="bold" text-anchor="end" transform="rotate(-45 387.3 1284.5)">PBS</text>
<line x1="421.2" y1="1260.5" x2="421.2" y2="1269.5" stroke="#000" stroke-width="2.3"/>
<text x="427.9" y="1284.5" font-size="16.5" font-weight="bold" text-anchor="end" transform="rotate(-45 427.9 1284.5)">Poly(I:C)</text>
<line x1="461.8" y1="1260.5" x2="461.8" y2="1269.5" stroke="#000" stroke-width="2.3"/>
<text x="468.5" y="1284.5" font-size="16.5" font-weight="bold" text-anchor="end" transform="rotate(-45 468.5 1284.5)">IAV</text>
<line x1="137" y1="1147.3" x2="137" y2="1106.5" stroke="#333" stroke-width="1.2"/>
<line x1="130.3" y1="1106.5" x2="143.7" y2="1106.5" stroke="#333" stroke-width="1.4"/>
<rect x="124.1" y="1147.3" width="25.8" height="113.2" fill="#EA6226" stroke="#111" stroke-width="1.15"/>
<line x1="177.6" y1="1175.3" x2="177.6" y2="1138.8" stroke="#333" stroke-width="1.2"/>
<line x1="170.9" y1="1138.8" x2="184.3" y2="1138.8" stroke="#333" stroke-width="1.4"/>
<rect x="164.7" y="1175.3" width="25.8" height="85.2" fill="#F5A24A" stroke="#111" stroke-width="1.15"/>
<line x1="218.2" y1="1106.5" x2="218.2" y2="1083.1" stroke="#333" stroke-width="1.2"/>
<line x1="211.5" y1="1083.1" x2="224.9" y2="1083.1" stroke="#333" stroke-width="1.4"/>
<rect x="205.3" y="1106.5" width="25.8" height="154" fill="#FCDFC2" stroke="#111" stroke-width="1.15"/>
<line x1="258.8" y1="1221.2" x2="258.8" y2="1195.3" stroke="#333" stroke-width="1.2"/>
<line x1="252.1" y1="1195.3" x2="265.5" y2="1195.3" stroke="#333" stroke-width="1.4"/>
<rect x="245.9" y="1221.2" width="25.8" height="39.3" fill="#EA6226" stroke="#111" stroke-width="1.15"/>
<line x1="299.4" y1="1183.6" x2="299.4" y2="1144.6" stroke="#333" stroke-width="1.2"/>
<line x1="292.7" y1="1144.6" x2="306.1" y2="1144.6" stroke="#333" stroke-width="1.4"/>
<rect x="286.5" y="1183.6" width="25.8" height="76.9" fill="#F5A24A" stroke="#111" stroke-width="1.15"/>
<line x1="340" y1="1142.5" x2="340" y2="1100.1" stroke="#333" stroke-width="1.2"/>
<line x1="333.3" y1="1100.1" x2="346.7" y2="1100.1" stroke="#333" stroke-width="1.4"/>
<rect x="327.1" y="1142.5" width="25.8" height="118" fill="#FCDFC2" stroke="#111" stroke-width="1.15"/>
<line x1="380.6" y1="1106.6" x2="380.6" y2="1068.9" stroke="#333" stroke-width="1.2"/>
<line x1="373.9" y1="1068.9" x2="387.3" y2="1068.9" stroke="#333" stroke-width="1.4"/>
<rect x="367.7" y="1106.6" width="25.8" height="153.9" fill="#EA6226" stroke="#111" stroke-width="1.15"/>
<line x1="421.2" y1="1082.4" x2="421.2" y2="1063.9" stroke="#333" stroke-width="1.2"/>
<line x1="414.5" y1="1063.9" x2="427.9" y2="1063.9" stroke="#333" stroke-width="1.4"/>
<rect x="408.3" y="1082.4" width="25.8" height="178.1" fill="#F5A24A" stroke="#111" stroke-width="1.15"/>
<line x1="461.8" y1="1100.5" x2="461.8" y2="1063.6" stroke="#333" stroke-width="1.2"/>
<line x1="455.1" y1="1063.6" x2="468.5" y2="1063.6" stroke="#333" stroke-width="1.4"/>
<rect x="448.9" y="1100.5" width="25.8" height="160" fill="#FCDFC2" stroke="#111" stroke-width="1.15"/>
<circle cx="136.6" cy="1095.2" r="4.05" fill="#EA6226" stroke="#000" stroke-width="1.2"/>
<circle cx="136.6" cy="1158" r="4.05" fill="#EA6226" stroke="#000" stroke-width="1.2"/>
<circle cx="136.6" cy="1184" r="4.05" fill="#EA6226" stroke="#000" stroke-width="1.2"/>
<circle cx="136.6" cy="1260.5" r="4.05" fill="#EA6226" stroke="#000" stroke-width="1.2"/>
<rect x="164.3" y="1140" width="7.8" height="7.8" fill="#F5A24A" stroke="#000" stroke-width="1.25"/>
<rect x="182.6" y="1137.5" width="7.8" height="7.8" fill="#F5A24A" stroke="#000" stroke-width="1.25"/>
<rect x="164.3" y="1256.6" width="7.8" height="7.8" fill="#F5A24A" stroke="#000" stroke-width="1.25"/>
<rect x="182.6" y="1256.6" width="7.8" height="7.8" fill="#F5A24A" stroke="#000" stroke-width="1.25"/>
<polygon points="217.8,1072.69 222.23,1080.89 213.37,1080.89" fill="#FCDFC2" stroke="#000" stroke-width="1.25" stroke-linejoin="miter"/>
<polygon points="217.8,1099.79 222.23,1107.99 213.37,1107.99" fill="#FCDFC2" stroke="#000" stroke-width="1.25" stroke-linejoin="miter"/>
<polygon points="217.8,1123.19 222.23,1131.39 213.37,1131.39" fill="#FCDFC2" stroke="#000" stroke-width="1.25" stroke-linejoin="miter"/>
<polygon points="217.8,1133.29 222.23,1141.49 213.37,1141.49" fill="#FCDFC2" stroke="#000" stroke-width="1.25" stroke-linejoin="miter"/>
<circle cx="249.5" cy="1200.4" r="4.05" fill="#EA6226" stroke="#000" stroke-width="1.2"/>
<circle cx="267.8" cy="1196" r="4.05" fill="#EA6226" stroke="#000" stroke-width="1.2"/>
<circle cx="249.5" cy="1260.5" r="4.05" fill="#EA6226" stroke="#000" stroke-width="1.2"/>
<circle cx="267.8" cy="1260.5" r="4.05" fill="#EA6226" stroke="#000" stroke-width="1.2"/>
<rect x="295.3" y="1131.8" width="7.8" height="7.8" fill="#F5A24A" stroke="#000" stroke-width="1.25"/>
<rect x="295.3" y="1172.2" width="7.8" height="7.8" fill="#F5A24A" stroke="#000" stroke-width="1.25"/>
<rect x="285.9" y="1256.6" width="7.8" height="7.8" fill="#F5A24A" stroke="#000" stroke-width="1.25"/>
<rect x="304.6" y="1256.6" width="7.8" height="7.8" fill="#F5A24A" stroke="#000" stroke-width="1.25"/>
<polygon points="339.6,1087.39 344.03,1095.59 335.17,1095.59" fill="#FCDFC2" stroke="#000" stroke-width="1.25" stroke-linejoin="miter"/>
<polygon points="339.6,1127.79 344.03,1135.99 335.17,1135.99" fill="#FCDFC2" stroke="#000" stroke-width="1.25" stroke-linejoin="miter"/>
<polygon points="330.5,1255.99 334.93,1264.19 326.07,1264.19" fill="#FCDFC2" stroke="#000" stroke-width="1.25" stroke-linejoin="miter"/>
<polygon points="349,1255.99 353.43,1264.19 344.57,1264.19" fill="#FCDFC2" stroke="#000" stroke-width="1.25" stroke-linejoin="miter"/>
<circle cx="380.5" cy="1059.5" r="4.05" fill="#EA6226" stroke="#000" stroke-width="1.2"/>
<circle cx="380.5" cy="1110.4" r="4.05" fill="#EA6226" stroke="#000" stroke-width="1.2"/>
<circle cx="380.5" cy="1126.1" r="4.05" fill="#EA6226" stroke="#000" stroke-width="1.2"/>
<circle cx="380.5" cy="1260.5" r="4.05" fill="#EA6226" stroke="#000" stroke-width="1.2"/>
<rect x="417" y="1053.6" width="7.8" height="7.8" fill="#F5A24A" stroke="#000" stroke-width="1.25"/>
<rect x="417" y="1080.2" width="7.8" height="7.8" fill="#F5A24A" stroke="#000" stroke-width="1.25"/>
<rect x="407.7" y="1095.6" width="7.8" height="7.8" fill="#F5A24A" stroke="#000" stroke-width="1.25"/>
<rect x="426.3" y="1092.8" width="7.8" height="7.8" fill="#F5A24A" stroke="#000" stroke-width="1.25"/>
<polygon points="452.3,1066.19 456.73,1074.39 447.87,1074.39" fill="#FCDFC2" stroke="#000" stroke-width="1.25" stroke-linejoin="miter"/>
<polygon points="471,1061.39 475.43,1069.59 466.57,1069.59" fill="#FCDFC2" stroke="#000" stroke-width="1.25" stroke-linejoin="miter"/>
<polygon points="461.6,1155.79 466.03,1163.99 457.17,1163.99" fill="#FCDFC2" stroke="#000" stroke-width="1.25" stroke-linejoin="miter"/>
<polygon points="461.6,1255.99 466.03,1264.19 457.17,1264.19" fill="#FCDFC2" stroke="#000" stroke-width="1.25" stroke-linejoin="miter"/>
<line x1="123.3" y1="1336" x2="231.5" y2="1336" stroke="#000" stroke-width="2.2"/>
<text x="177.6" y="1361.8" font-size="17.5" text-anchor="middle" fill="#111">1 d p.i.</text>
<line x1="245.1" y1="1336" x2="353.3" y2="1336" stroke="#000" stroke-width="2.2"/>
<text x="299.4" y="1361.8" font-size="17.5" text-anchor="middle" fill="#111">3 d p.i.</text>
<line x1="366.9" y1="1336" x2="475.1" y2="1336" stroke="#000" stroke-width="2.2"/>
<text x="421.2" y="1361.8" font-size="17.5" text-anchor="middle" fill="#111">6 d p.i.</text>
<text x="60.5" y="1127" font-size="17.5" font-weight="bold" text-anchor="middle" transform="rotate(-90 60.5 1127)">TNF   [pg/g]</text>
<text x="299.5" y="967.8" font-size="17.5" text-anchor="middle" fill="#111">IBV</text>
<text x="605.8" y="961.4" font-size="46" font-weight="bold">f</text>
<line x1="699.5" y1="1260.5" x2="708.5" y2="1260.5" stroke="#000" stroke-width="2.6"/>
<text x="696.9" y="1266.4" font-size="16.5" font-weight="bold" text-anchor="end">1</text>
<line x1="699.5" y1="1175.93" x2="708.5" y2="1175.93" stroke="#000" stroke-width="2.6"/>
<text x="696.9" y="1181.83" font-size="16.5" font-weight="bold" text-anchor="end">10</text>
<line x1="699.5" y1="1091.37" x2="708.5" y2="1091.37" stroke="#000" stroke-width="2.6"/>
<text x="696.9" y="1097.27" font-size="16.5" font-weight="bold" text-anchor="end">100</text>
<line x1="699.5" y1="1006.8" x2="708.5" y2="1006.8" stroke="#000" stroke-width="2.6"/>
<text x="696.9" y="1012.7" font-size="16.5" font-weight="bold" text-anchor="end">1000</text>
<line x1="837.7" y1="1008.3" x2="837.7" y2="1257" stroke="#000" stroke-width="1.3" stroke-dasharray="3.6 2.6"/>
<line x1="959.3" y1="1008.3" x2="959.3" y2="1257" stroke="#000" stroke-width="1.3" stroke-dasharray="3.6 2.6"/>
<line x1="708.5" y1="1005.6" x2="708.5" y2="1261.7" stroke="#000" stroke-width="2.4"/>
<line x1="707.3" y1="1260.5" x2="1090" y2="1260.5" stroke="#000" stroke-width="2.4"/>
<line x1="735.5" y1="1260.5" x2="735.5" y2="1269.5" stroke="#000" stroke-width="2.3"/>
<text x="742.2" y="1284.5" font-size="16.5" font-weight="bold" text-anchor="end" transform="rotate(-45 742.2 1284.5)">PBS</text>
<line x1="776.1" y1="1260.5" x2="776.1" y2="1269.5" stroke="#000" stroke-width="2.3"/>
<text x="782.8" y="1284.5" font-size="16.5" font-weight="bold" text-anchor="end" transform="rotate(-45 782.8 1284.5)">Poly(I:C)</text>
<line x1="816.7" y1="1260.5" x2="816.7" y2="1269.5" stroke="#000" stroke-width="2.3"/>
<text x="823.4" y="1284.5" font-size="16.5" font-weight="bold" text-anchor="end" transform="rotate(-45 823.4 1284.5)">IAV</text>
<line x1="857.3" y1="1260.5" x2="857.3" y2="1269.5" stroke="#000" stroke-width="2.3"/>
<text x="864" y="1284.5" font-size="16.5" font-weight="bold" text-anchor="end" transform="rotate(-45 864 1284.5)">PBS</text>
<line x1="897.9" y1="1260.5" x2="897.9" y2="1269.5" stroke="#000" stroke-width="2.3"/>
<text x="904.6" y="1284.5" font-size="16.5" font-weight="bold" text-anchor="end" transform="rotate(-45 904.6 1284.5)">Poly(I:C)</text>
<line x1="938.5" y1="1260.5" x2="938.5" y2="1269.5" stroke="#000" stroke-width="2.3"/>
<text x="945.2" y="1284.5" font-size="16.5" font-weight="bold" text-anchor="end" transform="rotate(-45 945.2 1284.5)">IAV</text>
<line x1="979.1" y1="1260.5" x2="979.1" y2="1269.5" stroke="#000" stroke-width="2.3"/>
<text x="985.8" y="1284.5" font-size="16.5" font-weight="bold" text-anchor="end" transform="rotate(-45 985.8 1284.5)">PBS</text>
<line x1="1019.7" y1="1260.5" x2="1019.7" y2="1269.5" stroke="#000" stroke-width="2.3"/>
<text x="1026.4" y="1284.5" font-size="16.5" font-weight="bold" text-anchor="end" transform="rotate(-45 1026.4 1284.5)">Poly(I:C)</text>
<line x1="1060.3" y1="1260.5" x2="1060.3" y2="1269.5" stroke="#000" stroke-width="2.3"/>
<text x="1067" y="1284.5" font-size="16.5" font-weight="bold" text-anchor="end" transform="rotate(-45 1067 1284.5)">IAV</text>
<line x1="735.5" y1="1119.9" x2="735.5" y2="1096.8" stroke="#333" stroke-width="1.2"/>
<line x1="728.8" y1="1096.8" x2="742.2" y2="1096.8" stroke="#333" stroke-width="1.4"/>
<rect x="722.6" y="1119.9" width="25.8" height="140.6" fill="#EA6226" stroke="#111" stroke-width="1.15"/>
<line x1="776.1" y1="1116.3" x2="776.1" y2="1093.9" stroke="#333" stroke-width="1.2"/>
<line x1="769.4" y1="1093.9" x2="782.8" y2="1093.9" stroke="#333" stroke-width="1.4"/>
<rect x="763.2" y="1116.3" width="25.8" height="144.2" fill="#F5A24A" stroke="#111" stroke-width="1.15"/>
<line x1="816.7" y1="1086" x2="816.7" y2="1062" stroke="#333" stroke-width="1.2"/>
<line x1="810" y1="1062" x2="823.4" y2="1062" stroke="#333" stroke-width="1.4"/>
<rect x="803.8" y="1086" width="25.8" height="174.5" fill="#FCDFC2" stroke="#111" stroke-width="1.15"/>
<line x1="857.3" y1="1201.6" x2="857.3" y2="1175.7" stroke="#333" stroke-width="1.2"/>
<line x1="850.6" y1="1175.7" x2="864" y2="1175.7" stroke="#333" stroke-width="1.4"/>
<rect x="844.4" y="1201.6" width="25.8" height="58.9" fill="#EA6226" stroke="#111" stroke-width="1.15"/>
<line x1="897.9" y1="1194.8" x2="897.9" y2="1176.3" stroke="#333" stroke-width="1.2"/>
<line x1="891.2" y1="1176.3" x2="904.6" y2="1176.3" stroke="#333" stroke-width="1.4"/>
<rect x="885" y="1194.8" width="25.8" height="65.7" fill="#F5A24A" stroke="#111" stroke-width="1.15"/>
<line x1="938.5" y1="1170.6" x2="938.5" y2="1147.6" stroke="#333" stroke-width="1.2"/>
<line x1="931.8" y1="1147.6" x2="945.2" y2="1147.6" stroke="#333" stroke-width="1.4"/>
<rect x="925.6" y="1170.6" width="25.8" height="89.9" fill="#FCDFC2" stroke="#111" stroke-width="1.15"/>
<line x1="979.1" y1="1149.4" x2="979.1" y2="1115.2" stroke="#333" stroke-width="1.2"/>
<line x1="972.4" y1="1115.2" x2="985.8" y2="1115.2" stroke="#333" stroke-width="1.4"/>
<rect x="966.2" y="1149.4" width="25.8" height="111.1" fill="#EA6226" stroke="#111" stroke-width="1.15"/>
<line x1="1019.7" y1="1093.3" x2="1019.7" y2="1068.7" stroke="#333" stroke-width="1.2"/>
<line x1="1013" y1="1068.7" x2="1026.4" y2="1068.7" stroke="#333" stroke-width="1.4"/>
<rect x="1006.8" y="1093.3" width="25.8" height="167.2" fill="#F5A24A" stroke="#111" stroke-width="1.15"/>
<line x1="1060.3" y1="1140.8" x2="1060.3" y2="1115.2" stroke="#333" stroke-width="1.2"/>
<line x1="1053.6" y1="1115.2" x2="1067" y2="1115.2" stroke="#333" stroke-width="1.4"/>
<rect x="1047.4" y="1140.8" width="25.8" height="119.7" fill="#FCDFC2" stroke="#111" stroke-width="1.15"/>
<circle cx="735.6" cy="1089.2" r="4.05" fill="#EA6226" stroke="#000" stroke-width="1.2"/>
<circle cx="726.4" cy="1131.2" r="4.05" fill="#EA6226" stroke="#000" stroke-width="1.2"/>
<circle cx="744.9" cy="1139.3" r="4.05" fill="#EA6226" stroke="#000" stroke-width="1.2"/>
<circle cx="735.6" cy="1150.7" r="4.05" fill="#EA6226" stroke="#000" stroke-width="1.2"/>
<rect x="763" y="1095" width="7.8" height="7.8" fill="#F5A24A" stroke="#000" stroke-width="1.25"/>
<rect x="781.6" y="1089.7" width="7.8" height="7.8" fill="#F5A24A" stroke="#000" stroke-width="1.25"/>
<rect x="772.3" y="1149.3" width="7.8" height="7.8" fill="#F5A24A" stroke="#000" stroke-width="1.25"/>
<rect x="772.3" y="1164.2" width="7.8" height="7.8" fill="#F5A24A" stroke="#000" stroke-width="1.25"/>
<polygon points="816.6,1050.59 821.03,1058.79 812.17,1058.79" fill="#FCDFC2" stroke="#000" stroke-width="1.25" stroke-linejoin="miter"/>
<polygon points="816.6,1089.69 821.03,1097.89 812.17,1097.89" fill="#FCDFC2" stroke="#000" stroke-width="1.25" stroke-linejoin="miter"/>
<polygon points="816.6,1105.49 821.03,1113.69 812.17,1113.69" fill="#FCDFC2" stroke="#000" stroke-width="1.25" stroke-linejoin="miter"/>
<polygon points="816.6,1118.79 821.03,1126.99 812.17,1126.99" fill="#FCDFC2" stroke="#000" stroke-width="1.25" stroke-linejoin="miter"/>
<circle cx="857.3" cy="1171.9" r="4.05" fill="#EA6226" stroke="#000" stroke-width="1.2"/>
<circle cx="857.3" cy="1189.4" r="4.05" fill="#EA6226" stroke="#000" stroke-width="1.2"/>
<circle cx="848" cy="1260.5" r="4.05" fill="#EA6226" stroke="#000" stroke-width="1.2"/>
<circle cx="866.7" cy="1260.5" r="4.05" fill="#EA6226" stroke="#000" stroke-width="1.2"/>
<rect x="893.9" y="1172.9" width="7.8" height="7.8" fill="#F5A24A" stroke="#000" stroke-width="1.25"/>
<rect x="884.9" y="1183.1" width="7.8" height="7.8" fill="#F5A24A" stroke="#000" stroke-width="1.25"/>
<rect x="903.3" y="1188.6" width="7.8" height="7.8" fill="#F5A24A" stroke="#000" stroke-width="1.25"/>
<rect x="893.9" y="1256.6" width="7.8" height="7.8" fill="#F5A24A" stroke="#000" stroke-width="1.25"/>
<polygon points="938.6,1140.79 943.03,1148.99 934.17,1148.99" fill="#FCDFC2" stroke="#000" stroke-width="1.25" stroke-linejoin="miter"/>
<polygon points="938.6,1155.79 943.03,1163.99 934.17,1163.99" fill="#FCDFC2" stroke="#000" stroke-width="1.25" stroke-linejoin="miter"/>
<polygon points="938.6,1184.99 943.03,1193.19 934.17,1193.19" fill="#FCDFC2" stroke="#000" stroke-width="1.25" stroke-linejoin="miter"/>
<polygon points="938.6,1255.99 943.03,1264.19 934.17,1264.19" fill="#FCDFC2" stroke="#000" stroke-width="1.25" stroke-linejoin="miter"/>
<circle cx="979.2" cy="1106" r="4.05" fill="#EA6226" stroke="#000" stroke-width="1.2"/>
<circle cx="970" cy="1183.2" r="4.05" fill="#EA6226" stroke="#000" stroke-width="1.2"/>
<circle cx="988.6" cy="1187" r="4.05" fill="#EA6226" stroke="#000" stroke-width="1.2"/>
<circle cx="979.2" cy="1260.5" r="4.05" fill="#EA6226" stroke="#000" stroke-width="1.2"/>
<rect x="1015.7" y="1057.5" width="7.8" height="7.8" fill="#F5A24A" stroke="#000" stroke-width="1.25"/>
<rect x="1006.7" y="1098.3" width="7.8" height="7.8" fill="#F5A24A" stroke="#000" stroke-width="1.25"/>
<rect x="1024.9" y="1102.1" width="7.8" height="7.8" fill="#F5A24A" stroke="#000" stroke-width="1.25"/>
<rect x="1015.7" y="1140.7" width="7.8" height="7.8" fill="#F5A24A" stroke="#000" stroke-width="1.25"/>
<polygon points="1051,1114.09 1055.43,1122.29 1046.57,1122.29" fill="#FCDFC2" stroke="#000" stroke-width="1.25" stroke-linejoin="miter"/>
<polygon points="1069.5,1112.69 1073.93,1120.89 1065.07,1120.89" fill="#FCDFC2" stroke="#000" stroke-width="1.25" stroke-linejoin="miter"/>
<polygon points="1060.3,1192.79 1064.73,1200.99 1055.87,1200.99" fill="#FCDFC2" stroke="#000" stroke-width="1.25" stroke-linejoin="miter"/>
<polygon points="1060.3,1225.59 1064.73,1233.79 1055.87,1233.79" fill="#FCDFC2" stroke="#000" stroke-width="1.25" stroke-linejoin="miter"/>
<line x1="721.8" y1="1336" x2="830" y2="1336" stroke="#000" stroke-width="2.2"/>
<text x="776.1" y="1361.8" font-size="17.5" text-anchor="middle" fill="#111">1 d p.i.</text>
<line x1="843.6" y1="1336" x2="951.8" y2="1336" stroke="#000" stroke-width="2.2"/>
<text x="897.9" y="1361.8" font-size="17.5" text-anchor="middle" fill="#111">3 d p.i.</text>
<line x1="965.4" y1="1336" x2="1073.6" y2="1336" stroke="#000" stroke-width="2.2"/>
<text x="1019.7" y="1361.8" font-size="17.5" text-anchor="middle" fill="#111">6 d p.i.</text>
<text x="650" y="1133.5" font-size="17.5" font-weight="bold" text-anchor="middle" transform="rotate(-90 650 1133.5)">IL-6 [pg/g]</text>
<text x="898" y="967.8" font-size="17.5" text-anchor="middle" fill="#111">IBV</text>
<text x="1204.8" y="961.4" font-size="46" font-weight="bold">g</text>
<line x1="1302.8" y1="1222.31" x2="1307.3" y2="1222.31" stroke="#000" stroke-width="2.2"/>
<line x1="1302.8" y1="1199.98" x2="1307.3" y2="1199.98" stroke="#000" stroke-width="2.2"/>
<line x1="1302.8" y1="1184.13" x2="1307.3" y2="1184.13" stroke="#000" stroke-width="2.2"/>
<line x1="1302.8" y1="1171.84" x2="1307.3" y2="1171.84" stroke="#000" stroke-width="2.2"/>
<line x1="1302.8" y1="1161.79" x2="1307.3" y2="1161.79" stroke="#000" stroke-width="2.2"/>
<line x1="1302.8" y1="1153.3" x2="1307.3" y2="1153.3" stroke="#000" stroke-width="2.2"/>
<line x1="1302.8" y1="1145.94" x2="1307.3" y2="1145.94" stroke="#000" stroke-width="2.2"/>
<line x1="1302.8" y1="1139.45" x2="1307.3" y2="1139.45" stroke="#000" stroke-width="2.2"/>
<line x1="1302.8" y1="1095.46" x2="1307.3" y2="1095.46" stroke="#000" stroke-width="2.2"/>
<line x1="1302.8" y1="1073.13" x2="1307.3" y2="1073.13" stroke="#000" stroke-width="2.2"/>
<line x1="1302.8" y1="1057.28" x2="1307.3" y2="1057.28" stroke="#000" stroke-width="2.2"/>
<line x1="1302.8" y1="1044.99" x2="1307.3" y2="1044.99" stroke="#000" stroke-width="2.2"/>
<line x1="1302.8" y1="1034.94" x2="1307.3" y2="1034.94" stroke="#000" stroke-width="2.2"/>
<line x1="1302.8" y1="1026.45" x2="1307.3" y2="1026.45" stroke="#000" stroke-width="2.2"/>
<line x1="1302.8" y1="1019.09" x2="1307.3" y2="1019.09" stroke="#000" stroke-width="2.2"/>
<line x1="1302.8" y1="1012.6" x2="1307.3" y2="1012.6" stroke="#000" stroke-width="2.2"/>
<line x1="1298.3" y1="1260.5" x2="1307.3" y2="1260.5" stroke="#000" stroke-width="2.6"/>
<text x="1295.7" y="1266.4" font-size="16.5" font-weight="bold" text-anchor="end">1</text>
<line x1="1298.3" y1="1133.65" x2="1307.3" y2="1133.65" stroke="#000" stroke-width="2.6"/>
<text x="1295.7" y="1139.55" font-size="16.5" font-weight="bold" text-anchor="end">10</text>
<line x1="1298.3" y1="1006.8" x2="1307.3" y2="1006.8" stroke="#000" stroke-width="2.6"/>
<text x="1295.7" y="1012.7" font-size="16.5" font-weight="bold" text-anchor="end">100</text>
<line x1="1436.5" y1="1008.3" x2="1436.5" y2="1257" stroke="#000" stroke-width="1.3" stroke-dasharray="3.6 2.6"/>
<line x1="1558.1" y1="1008.3" x2="1558.1" y2="1257" stroke="#000" stroke-width="1.3" stroke-dasharray="3.6 2.6"/>
<line x1="1307.3" y1="1005.6" x2="1307.3" y2="1261.7" stroke="#000" stroke-width="2.4"/>
<line x1="1306.1" y1="1260.5" x2="1688.8" y2="1260.5" stroke="#000" stroke-width="2.4"/>
<line x1="1334.3" y1="1260.5" x2="1334.3" y2="1269.5" stroke="#000" stroke-width="2.3"/>
<text x="1341" y="1284.5" font-size="16.5" font-weight="bold" text-anchor="end" transform="rotate(-45 1341 1284.5)">PBS</text>
<line x1="1374.9" y1="1260.5" x2="1374.9" y2="1269.5" stroke="#000" stroke-width="2.3"/>
<text x="1381.6" y="1284.5" font-size="16.5" font-weight="bold" text-anchor="end" transform="rotate(-45 1381.6 1284.5)">Poly(I:C)</text>
<line x1="1415.5" y1="1260.5" x2="1415.5" y2="1269.5" stroke="#000" stroke-width="2.3"/>
<text x="1422.2" y="1284.5" font-size="16.5" font-weight="bold" text-anchor="end" transform="rotate(-45 1422.2 1284.5)">IAV</text>
<line x1="1456.1" y1="1260.5" x2="1456.1" y2="1269.5" stroke="#000" stroke-width="2.3"/>
<text x="1462.8" y="1284.5" font-size="16.5" font-weight="bold" text-anchor="end" transform="rotate(-45 1462.8 1284.5)">PBS</text>
<line x1="1496.7" y1="1260.5" x2="1496.7" y2="1269.5" stroke="#000" stroke-width="2.3"/>
<text x="1503.4" y="1284.5" font-size="16.5" font-weight="bold" text-anchor="end" transform="rotate(-45 1503.4 1284.5)">Poly(I:C)</text>
<line x1="1537.3" y1="1260.5" x2="1537.3" y2="1269.5" stroke="#000" stroke-width="2.3"/>
<text x="1544" y="1284.5" font-size="16.5" font-weight="bold" text-anchor="end" transform="rotate(-45 1544 1284.5)">IAV</text>
<line x1="1577.9" y1="1260.5" x2="1577.9" y2="1269.5" stroke="#000" stroke-width="2.3"/>
<text x="1584.6" y="1284.5" font-size="16.5" font-weight="bold" text-anchor="end" transform="rotate(-45 1584.6 1284.5)">PBS</text>
<line x1="1618.5" y1="1260.5" x2="1618.5" y2="1269.5" stroke="#000" stroke-width="2.3"/>
<text x="1625.2" y="1284.5" font-size="16.5" font-weight="bold" text-anchor="end" transform="rotate(-45 1625.2 1284.5)">Poly(I:C)</text>
<line x1="1659.1" y1="1260.5" x2="1659.1" y2="1269.5" stroke="#000" stroke-width="2.3"/>
<text x="1665.8" y="1284.5" font-size="16.5" font-weight="bold" text-anchor="end" transform="rotate(-45 1665.8 1284.5)">IAV</text>
<line x1="1334.3" y1="1105" x2="1334.3" y2="1079.3" stroke="#333" stroke-width="1.2"/>
<line x1="1327.6" y1="1079.3" x2="1341" y2="1079.3" stroke="#333" stroke-width="1.4"/>
<rect x="1321.4" y="1105" width="25.8" height="155.5" fill="#EA6226" stroke="#111" stroke-width="1.15"/>
<line x1="1374.9" y1="1118.9" x2="1374.9" y2="1105.4" stroke="#333" stroke-width="1.2"/>
<line x1="1368.2" y1="1105.4" x2="1381.6" y2="1105.4" stroke="#333" stroke-width="1.4"/>
<rect x="1362" y="1118.9" width="25.8" height="141.6" fill="#F5A24A" stroke="#111" stroke-width="1.15"/>
<line x1="1415.5" y1="1072.4" x2="1415.5" y2="1049.8" stroke="#333" stroke-width="1.2"/>
<line x1="1408.8" y1="1049.8" x2="1422.2" y2="1049.8" stroke="#333" stroke-width="1.4"/>
<rect x="1402.6" y="1072.4" width="25.8" height="188.1" fill="#FCDFC2" stroke="#111" stroke-width="1.15"/>
<line x1="1456.1" y1="1102.7" x2="1456.1" y2="1089.6" stroke="#333" stroke-width="1.2"/>
<line x1="1449.4" y1="1089.6" x2="1462.8" y2="1089.6" stroke="#333" stroke-width="1.4"/>
<rect x="1443.2" y="1102.7" width="25.8" height="157.8" fill="#EA6226" stroke="#111" stroke-width="1.15"/>
<line x1="1496.7" y1="1068.1" x2="1496.7" y2="1060" stroke="#333" stroke-width="1.2"/>
<line x1="1490" y1="1060" x2="1503.4" y2="1060" stroke="#333" stroke-width="1.4"/>
<rect x="1483.8" y="1068.1" width="25.8" height="192.4" fill="#F5A24A" stroke="#111" stroke-width="1.15"/>
<line x1="1537.3" y1="1040.6" x2="1537.3" y2="1024.5" stroke="#333" stroke-width="1.2"/>
<line x1="1530.6" y1="1024.5" x2="1544" y2="1024.5" stroke="#333" stroke-width="1.4"/>
<rect x="1524.4" y="1040.6" width="25.8" height="219.9" fill="#FCDFC2" stroke="#111" stroke-width="1.15"/>
<line x1="1577.9" y1="1080.6" x2="1577.9" y2="1049.8" stroke="#333" stroke-width="1.2"/>
<line x1="1571.2" y1="1049.8" x2="1584.6" y2="1049.8" stroke="#333" stroke-width="1.4"/>
<rect x="1565" y="1080.6" width="25.8" height="179.9" fill="#EA6226" stroke="#111" stroke-width="1.15"/>
<line x1="1618.5" y1="1076.2" x2="1618.5" y2="1053.9" stroke="#333" stroke-width="1.2"/>
<line x1="1611.8" y1="1053.9" x2="1625.2" y2="1053.9" stroke="#333" stroke-width="1.4"/>
<rect x="1605.6" y="1076.2" width="25.8" height="184.3" fill="#F5A24A" stroke="#111" stroke-width="1.15"/>
<line x1="1659.1" y1="1075.4" x2="1659.1" y2="1062" stroke="#333" stroke-width="1.2"/>
<line x1="1652.4" y1="1062" x2="1665.8" y2="1062" stroke="#333" stroke-width="1.4"/>
<rect x="1646.2" y="1075.4" width="25.8" height="185.1" fill="#FCDFC2" stroke="#111" stroke-width="1.15"/>
<circle cx="1334.6" cy="1072.8" r="4.05" fill="#EA6226" stroke="#000" stroke-width="1.2"/>
<circle cx="1334.6" cy="1099.3" r="4.05" fill="#EA6226" stroke="#000" stroke-width="1.2"/>
<circle cx="1334.6" cy="1131.3" r="4.05" fill="#EA6226" stroke="#000" stroke-width="1.2"/>
<circle cx="1334.6" cy="1142.5" r="4.05" fill="#EA6226" stroke="#000" stroke-width="1.2"/>
<rect x="1362.1" y="1108.4" width="7.8" height="7.8" fill="#F5A24A" stroke="#000" stroke-width="1.25"/>
<rect x="1380.6" y="1101.3" width="7.8" height="7.8" fill="#F5A24A" stroke="#000" stroke-width="1.25"/>
<rect x="1380.6" y="1115.6" width="7.8" height="7.8" fill="#F5A24A" stroke="#000" stroke-width="1.25"/>
<rect x="1371.1" y="1138.6" width="7.8" height="7.8" fill="#F5A24A" stroke="#000" stroke-width="1.25"/>
<polygon points="1415.6,1041.09 1420.03,1049.29 1411.17,1049.29" fill="#FCDFC2" stroke="#000" stroke-width="1.25" stroke-linejoin="miter"/>
<polygon points="1415.6,1062.59 1420.03,1070.79 1411.17,1070.79" fill="#FCDFC2" stroke="#000" stroke-width="1.25" stroke-linejoin="miter"/>
<polygon points="1415.6,1086.59 1420.03,1094.79 1411.17,1094.79" fill="#FCDFC2" stroke="#000" stroke-width="1.25" stroke-linejoin="miter"/>
<polygon points="1415.6,1100.09 1420.03,1108.29 1411.17,1108.29" fill="#FCDFC2" stroke="#000" stroke-width="1.25" stroke-linejoin="miter"/>
<circle cx="1456.2" cy="1084.8" r="4.05" fill="#EA6226" stroke="#000" stroke-width="1.2"/>
<circle cx="1456.2" cy="1101.8" r="4.05" fill="#EA6226" stroke="#000" stroke-width="1.2"/>
<circle cx="1447" cy="1114.8" r="4.05" fill="#EA6226" stroke="#000" stroke-width="1.2"/>
<circle cx="1465.5" cy="1112.3" r="4.05" fill="#EA6226" stroke="#000" stroke-width="1.2"/>
<rect x="1493" y="1053.4" width="7.8" height="7.8" fill="#F5A24A" stroke="#000" stroke-width="1.25"/>
<rect x="1484.1" y="1072.8" width="7.8" height="7.8" fill="#F5A24A" stroke="#000" stroke-width="1.25"/>
<rect x="1493" y="1064.2" width="7.8" height="7.8" fill="#F5A24A" stroke="#000" stroke-width="1.25"/>
<rect x="1502.2" y="1064.2" width="7.8" height="7.8" fill="#F5A24A" stroke="#000" stroke-width="1.25"/>
<polygon points="1528.5,1025.59 1532.93,1033.79 1524.07,1033.79" fill="#FCDFC2" stroke="#000" stroke-width="1.25" stroke-linejoin="miter"/>
<polygon points="1546.5,1027.59 1550.93,1035.79 1542.07,1035.79" fill="#FCDFC2" stroke="#000" stroke-width="1.25" stroke-linejoin="miter"/>
<polygon points="1537.5,1032.09 1541.93,1040.29 1533.07,1040.29" fill="#FCDFC2" stroke="#000" stroke-width="1.25" stroke-linejoin="miter"/>
<polygon points="1537.5,1072.49 1541.93,1080.69 1533.07,1080.69" fill="#FCDFC2" stroke="#000" stroke-width="1.25" stroke-linejoin="miter"/>
<circle cx="1577.9" cy="1040.6" r="4.05" fill="#EA6226" stroke="#000" stroke-width="1.2"/>
<circle cx="1577.9" cy="1087.5" r="4.05" fill="#EA6226" stroke="#000" stroke-width="1.2"/>
<circle cx="1577.9" cy="1096.7" r="4.05" fill="#EA6226" stroke="#000" stroke-width="1.2"/>
<circle cx="1577.9" cy="1134.4" r="4.05" fill="#EA6226" stroke="#000" stroke-width="1.2"/>
<rect x="1614.8" y="1047.2" width="7.8" height="7.8" fill="#F5A24A" stroke="#000" stroke-width="1.25"/>
<rect x="1614.8" y="1058.9" width="7.8" height="7.8" fill="#F5A24A" stroke="#000" stroke-width="1.25"/>
<rect x="1614.8" y="1088.5" width="7.8" height="7.8" fill="#F5A24A" stroke="#000" stroke-width="1.25"/>
<rect x="1614.8" y="1112.2" width="7.8" height="7.8" fill="#F5A24A" stroke="#000" stroke-width="1.25"/>
<polygon points="1659.1,1057.09 1663.53,1065.29 1654.67,1065.29" fill="#FCDFC2" stroke="#000" stroke-width="1.25" stroke-linejoin="miter"/>
<polygon points="1650,1066.39 1654.43,1074.59 1645.57,1074.59" fill="#FCDFC2" stroke="#000" stroke-width="1.25" stroke-linejoin="miter"/>
<polygon points="1668.5,1070.89 1672.93,1079.09 1664.07,1079.09" fill="#FCDFC2" stroke="#000" stroke-width="1.25" stroke-linejoin="miter"/>
<polygon points="1659.1,1093.49 1663.53,1101.69 1654.67,1101.69" fill="#FCDFC2" stroke="#000" stroke-width="1.25" stroke-linejoin="miter"/>
<line x1="1320.6" y1="1336" x2="1428.8" y2="1336" stroke="#000" stroke-width="2.2"/>
<text x="1374.9" y="1361.8" font-size="17.5" text-anchor="middle" fill="#111">1 d p.i.</text>
<line x1="1442.4" y1="1336" x2="1550.6" y2="1336" stroke="#000" stroke-width="2.2"/>
<text x="1496.7" y="1361.8" font-size="17.5" text-anchor="middle" fill="#111">3 d p.i.</text>
<line x1="1564.2" y1="1336" x2="1672.4" y2="1336" stroke="#000" stroke-width="2.2"/>
<text x="1618.5" y="1361.8" font-size="17.5" text-anchor="middle" fill="#111">6 d p.i.</text>
<text x="1258" y="1133.5" font-size="17.5" font-weight="bold" text-anchor="middle" transform="rotate(-90 1258 1133.5)">IL-2 [pg/g]</text>
<text x="1496.8" y="967.8" font-size="17.5" text-anchor="middle" fill="#111">IBV</text>
<path d="M1456.2,1042.2 L1456.2,1036.6 L1496.9,1036.6 L1496.9,1042.2" fill="none" stroke="#555" stroke-width="1.4"/>
<text x="1476.4" y="1036.3" font-size="29" text-anchor="middle">**</text>
<path d="M1453.4,1014.3 L1453.4,1008 L1539.8,1008 L1539.8,1014.3" fill="none" stroke="#555" stroke-width="1.4"/>
<text x="1496.6" y="1007" font-size="29" text-anchor="middle">*</text>
<text x="6.8" y="1452.7" font-size="46" font-weight="bold">h</text>
<line x1="101" y1="1738" x2="110" y2="1738" stroke="#000" stroke-width="2.6"/>
<text x="98.4" y="1743.9" font-size="16.5" font-weight="bold" text-anchor="end">1</text>
<line x1="101" y1="1674.67" x2="110" y2="1674.67" stroke="#000" stroke-width="2.6"/>
<text x="98.4" y="1680.58" font-size="16.5" font-weight="bold" text-anchor="end">10</text>
<line x1="101" y1="1611.35" x2="110" y2="1611.35" stroke="#000" stroke-width="2.6"/>
<text x="98.4" y="1617.25" font-size="16.5" font-weight="bold" text-anchor="end">100</text>
<line x1="101" y1="1548.03" x2="110" y2="1548.03" stroke="#000" stroke-width="2.6"/>
<text x="98.4" y="1553.93" font-size="16.5" font-weight="bold" text-anchor="end">1000</text>
<line x1="101" y1="1484.7" x2="110" y2="1484.7" stroke="#000" stroke-width="2.6"/>
<text x="98.4" y="1490.6" font-size="16.5" font-weight="bold" text-anchor="end">10000</text>
<line x1="239.2" y1="1486.2" x2="239.2" y2="1734.5" stroke="#000" stroke-width="1.3" stroke-dasharray="3.6 2.6"/>
<line x1="360.8" y1="1486.2" x2="360.8" y2="1734.5" stroke="#000" stroke-width="1.3" stroke-dasharray="3.6 2.6"/>
<line x1="110" y1="1483.5" x2="110" y2="1739.2" stroke="#000" stroke-width="2.4"/>
<line x1="108.8" y1="1738" x2="491.5" y2="1738" stroke="#000" stroke-width="2.4"/>
<line x1="137" y1="1738" x2="137" y2="1747" stroke="#000" stroke-width="2.3"/>
<text x="143.7" y="1762" font-size="16.5" font-weight="bold" text-anchor="end" transform="rotate(-45 143.7 1762)">PBS</text>
<line x1="177.6" y1="1738" x2="177.6" y2="1747" stroke="#000" stroke-width="2.3"/>
<text x="184.3" y="1762" font-size="16.5" font-weight="bold" text-anchor="end" transform="rotate(-45 184.3 1762)">Poly(I:C)</text>
<line x1="218.2" y1="1738" x2="218.2" y2="1747" stroke="#000" stroke-width="2.3"/>
<text x="224.9" y="1762" font-size="16.5" font-weight="bold" text-anchor="end" transform="rotate(-45 224.9 1762)">IAV</text>
<line x1="258.8" y1="1738" x2="258.8" y2="1747" stroke="#000" stroke-width="2.3"/>
<text x="265.5" y="1762" font-size="16.5" font-weight="bold" text-anchor="end" transform="rotate(-45 265.5 1762)">PBS</text>
<line x1="299.4" y1="1738" x2="299.4" y2="1747" stroke="#000" stroke-width="2.3"/>
<text x="306.1" y="1762" font-size="16.5" font-weight="bold" text-anchor="end" transform="rotate(-45 306.1 1762)">Poly(I:C)</text>
<line x1="340" y1="1738" x2="340" y2="1747" stroke="#000" stroke-width="2.3"/>
<text x="346.7" y="1762" font-size="16.5" font-weight="bold" text-anchor="end" transform="rotate(-45 346.7 1762)">IAV</text>
<line x1="380.6" y1="1738" x2="380.6" y2="1747" stroke="#000" stroke-width="2.3"/>
<text x="387.3" y="1762" font-size="16.5" font-weight="bold" text-anchor="end" transform="rotate(-45 387.3 1762)">PBS</text>
<line x1="421.2" y1="1738" x2="421.2" y2="1747" stroke="#000" stroke-width="2.3"/>
<text x="427.9" y="1762" font-size="16.5" font-weight="bold" text-anchor="end" transform="rotate(-45 427.9 1762)">Poly(I:C)</text>
<line x1="461.8" y1="1738" x2="461.8" y2="1747" stroke="#000" stroke-width="2.3"/>
<text x="468.5" y="1762" font-size="16.5" font-weight="bold" text-anchor="end" transform="rotate(-45 468.5 1762)">IAV</text>
<line x1="137" y1="1544.1" x2="137" y2="1527.8" stroke="#333" stroke-width="1.2"/>
<line x1="130.3" y1="1527.8" x2="143.7" y2="1527.8" stroke="#333" stroke-width="1.4"/>
<rect x="124.1" y="1544.1" width="25.8" height="193.9" fill="#EA6226" stroke="#111" stroke-width="1.15"/>
<line x1="177.6" y1="1545.8" x2="177.6" y2="1527" stroke="#333" stroke-width="1.2"/>
<line x1="170.9" y1="1527" x2="184.3" y2="1527" stroke="#333" stroke-width="1.4"/>
<rect x="164.7" y="1545.8" width="25.8" height="192.2" fill="#F5A24A" stroke="#111" stroke-width="1.15"/>
<line x1="218.2" y1="1542.3" x2="218.2" y2="1524.4" stroke="#333" stroke-width="1.2"/>
<line x1="211.5" y1="1524.4" x2="224.9" y2="1524.4" stroke="#333" stroke-width="1.4"/>
<rect x="205.3" y="1542.3" width="25.8" height="195.7" fill="#FCDFC2" stroke="#111" stroke-width="1.15"/>
<line x1="258.8" y1="1623.6" x2="258.8" y2="1607.5" stroke="#333" stroke-width="1.2"/>
<line x1="252.1" y1="1607.5" x2="265.5" y2="1607.5" stroke="#333" stroke-width="1.4"/>
<rect x="245.9" y="1623.6" width="25.8" height="114.4" fill="#EA6226" stroke="#111" stroke-width="1.15"/>
<line x1="299.4" y1="1598.3" x2="299.4" y2="1581.1" stroke="#333" stroke-width="1.2"/>
<line x1="292.7" y1="1581.1" x2="306.1" y2="1581.1" stroke="#333" stroke-width="1.4"/>
<rect x="286.5" y="1598.3" width="25.8" height="139.7" fill="#F5A24A" stroke="#111" stroke-width="1.15"/>
<line x1="340" y1="1608.8" x2="340" y2="1600" stroke="#333" stroke-width="1.2"/>
<line x1="333.3" y1="1600" x2="346.7" y2="1600" stroke="#333" stroke-width="1.4"/>
<rect x="327.1" y="1608.8" width="25.8" height="129.2" fill="#FCDFC2" stroke="#111" stroke-width="1.15"/>
<line x1="380.6" y1="1644.4" x2="380.6" y2="1625.3" stroke="#333" stroke-width="1.2"/>
<line x1="373.9" y1="1625.3" x2="387.3" y2="1625.3" stroke="#333" stroke-width="1.4"/>
<rect x="367.7" y="1644.4" width="25.8" height="93.6" fill="#EA6226" stroke="#111" stroke-width="1.15"/>
<line x1="421.2" y1="1628.3" x2="421.2" y2="1614.4" stroke="#333" stroke-width="1.2"/>
<line x1="414.5" y1="1614.4" x2="427.9" y2="1614.4" stroke="#333" stroke-width="1.4"/>
<rect x="408.3" y="1628.3" width="25.8" height="109.7" fill="#F5A24A" stroke="#111" stroke-width="1.15"/>
<line x1="461.8" y1="1637.6" x2="461.8" y2="1618" stroke="#333" stroke-width="1.2"/>
<line x1="455.1" y1="1618" x2="468.5" y2="1618" stroke="#333" stroke-width="1.4"/>
<rect x="448.9" y="1637.6" width="25.8" height="100.4" fill="#FCDFC2" stroke="#111" stroke-width="1.15"/>
<circle cx="136.8" cy="1515.6" r="4.05" fill="#EA6226" stroke="#000" stroke-width="1.2"/>
<circle cx="127.6" cy="1537.6" r="4.05" fill="#EA6226" stroke="#000" stroke-width="1.2"/>
<circle cx="133.5" cy="1534.7" r="4.05" fill="#EA6226" stroke="#000" stroke-width="1.2"/>
<circle cx="139.5" cy="1539.4" r="4.05" fill="#EA6226" stroke="#000" stroke-width="1.2"/>
<circle cx="146.5" cy="1537.6" r="4.05" fill="#EA6226" stroke="#000" stroke-width="1.2"/>
<circle cx="133.5" cy="1547.2" r="4.05" fill="#EA6226" stroke="#000" stroke-width="1.2"/>
<circle cx="140" cy="1556.4" r="4.05" fill="#EA6226" stroke="#000" stroke-width="1.2"/>
<circle cx="133.5" cy="1564.9" r="4.05" fill="#EA6226" stroke="#000" stroke-width="1.2"/>
<circle cx="136.8" cy="1582.6" r="4.05" fill="#EA6226" stroke="#000" stroke-width="1.2"/>
<circle cx="136.8" cy="1615.8" r="4.05" fill="#EA6226" stroke="#000" stroke-width="1.2"/>
<rect x="164.2" y="1518.7" width="7.8" height="7.8" fill="#F5A24A" stroke="#000" stroke-width="1.25"/>
<rect x="164.2" y="1528.8" width="7.8" height="7.8" fill="#F5A24A" stroke="#000" stroke-width="1.25"/>
<rect x="183.1" y="1523.1" width="7.8" height="7.8" fill="#F5A24A" stroke="#000" stroke-width="1.25"/>
<rect x="173.3" y="1541" width="7.8" height="7.8" fill="#F5A24A" stroke="#000" stroke-width="1.25"/>
<rect x="173.3" y="1583.7" width="7.8" height="7.8" fill="#F5A24A" stroke="#000" stroke-width="1.25"/>
<rect x="173.3" y="1622.2" width="7.8" height="7.8" fill="#F5A24A" stroke="#000" stroke-width="1.25"/>
<rect x="173.3" y="1700.6" width="7.8" height="7.8" fill="#F5A24A" stroke="#000" stroke-width="1.25"/>
<polygon points="217.8,1508.39 222.23,1516.59 213.37,1516.59" fill="#FCDFC2" stroke="#000" stroke-width="1.25" stroke-linejoin="miter"/>
<polygon points="217.8,1521.29 222.23,1529.49 213.37,1529.49" fill="#FCDFC2" stroke="#000" stroke-width="1.25" stroke-linejoin="miter"/>
<polygon points="217.8,1530.19 222.23,1538.39 213.37,1538.39" fill="#FCDFC2" stroke="#000" stroke-width="1.25" stroke-linejoin="miter"/>
<polygon points="208.6,1533.09 213.03,1541.29 204.17,1541.29" fill="#FCDFC2" stroke="#000" stroke-width="1.25" stroke-linejoin="miter"/>
<polygon points="227.2,1529.59 231.63,1537.79 222.77,1537.79" fill="#FCDFC2" stroke="#000" stroke-width="1.25" stroke-linejoin="miter"/>
<polygon points="217.8,1541.29 222.23,1549.49 213.37,1549.49" fill="#FCDFC2" stroke="#000" stroke-width="1.25" stroke-linejoin="miter"/>
<polygon points="208.6,1548.39 213.03,1556.59 204.17,1556.59" fill="#FCDFC2" stroke="#000" stroke-width="1.25" stroke-linejoin="miter"/>
<polygon points="217.8,1555.79 222.23,1563.99 213.37,1563.99" fill="#FCDFC2" stroke="#000" stroke-width="1.25" stroke-linejoin="miter"/>
<polygon points="217.8,1598.89 222.23,1607.09 213.37,1607.09" fill="#FCDFC2" stroke="#000" stroke-width="1.25" stroke-linejoin="miter"/>
<polygon points="227.2,1607.69 231.63,1615.89 222.77,1615.89" fill="#FCDFC2" stroke="#000" stroke-width="1.25" stroke-linejoin="miter"/>
<polygon points="208.6,1611.89 213.03,1620.09 204.17,1620.09" fill="#FCDFC2" stroke="#000" stroke-width="1.25" stroke-linejoin="miter"/>
<circle cx="255.2" cy="1607" r="4.05" fill="#EA6226" stroke="#000" stroke-width="1.2"/>
<circle cx="261.4" cy="1606.6" r="4.05" fill="#EA6226" stroke="#000" stroke-width="1.2"/>
<circle cx="267.9" cy="1606.2" r="4.05" fill="#EA6226" stroke="#000" stroke-width="1.2"/>
<circle cx="249.2" cy="1614.6" r="4.05" fill="#EA6226" stroke="#000" stroke-width="1.2"/>
<circle cx="261.4" cy="1619.7" r="4.05" fill="#EA6226" stroke="#000" stroke-width="1.2"/>
<circle cx="255.2" cy="1623" r="4.05" fill="#EA6226" stroke="#000" stroke-width="1.2"/>
<circle cx="267.9" cy="1620.7" r="4.05" fill="#EA6226" stroke="#000" stroke-width="1.2"/>
<circle cx="252.2" cy="1738" r="4.05" fill="#EA6226" stroke="#000" stroke-width="1.2"/>
<circle cx="258.5" cy="1738" r="4.05" fill="#EA6226" stroke="#000" stroke-width="1.2"/>
<circle cx="264.9" cy="1738" r="4.05" fill="#EA6226" stroke="#000" stroke-width="1.2"/>
<rect x="285.8" y="1572.7" width="7.8" height="7.8" fill="#F5A24A" stroke="#000" stroke-width="1.25"/>
<rect x="304.3" y="1573.1" width="7.8" height="7.8" fill="#F5A24A" stroke="#000" stroke-width="1.25"/>
<rect x="295.1" y="1597.7" width="7.8" height="7.8" fill="#F5A24A" stroke="#000" stroke-width="1.25"/>
<rect x="285.8" y="1609.3" width="7.8" height="7.8" fill="#F5A24A" stroke="#000" stroke-width="1.25"/>
<rect x="304.3" y="1608.1" width="7.8" height="7.8" fill="#F5A24A" stroke="#000" stroke-width="1.25"/>
<rect x="295.1" y="1619.1" width="7.8" height="7.8" fill="#F5A24A" stroke="#000" stroke-width="1.25"/>
<rect x="295.1" y="1628" width="7.8" height="7.8" fill="#F5A24A" stroke="#000" stroke-width="1.25"/>
<polygon points="330.5,1591.69 334.93,1599.89 326.07,1599.89" fill="#FCDFC2" stroke="#000" stroke-width="1.25" stroke-linejoin="miter"/>
<polygon points="339.5,1590.79 343.93,1598.99 335.07,1598.99" fill="#FCDFC2" stroke="#000" stroke-width="1.25" stroke-linejoin="miter"/>
<polygon points="344.3,1592.99 348.73,1601.19 339.87,1601.19" fill="#FCDFC2" stroke="#000" stroke-width="1.25" stroke-linejoin="miter"/>
<polygon points="335.5,1596.89 339.93,1605.09 331.07,1605.09" fill="#FCDFC2" stroke="#000" stroke-width="1.25" stroke-linejoin="miter"/>
<polygon points="349,1597.79 353.43,1605.99 344.57,1605.99" fill="#FCDFC2" stroke="#000" stroke-width="1.25" stroke-linejoin="miter"/>
<polygon points="330.5,1603.39 334.93,1611.59 326.07,1611.59" fill="#FCDFC2" stroke="#000" stroke-width="1.25" stroke-linejoin="miter"/>
<polygon points="339.5,1604.69 343.93,1612.89 335.07,1612.89" fill="#FCDFC2" stroke="#000" stroke-width="1.25" stroke-linejoin="miter"/>
<polygon points="344.3,1603.69 348.73,1611.89 339.87,1611.89" fill="#FCDFC2" stroke="#000" stroke-width="1.25" stroke-linejoin="miter"/>
<polygon points="335.5,1614.29 339.93,1622.49 331.07,1622.49" fill="#FCDFC2" stroke="#000" stroke-width="1.25" stroke-linejoin="miter"/>
<polygon points="330.5,1620.39 334.93,1628.59 326.07,1628.59" fill="#FCDFC2" stroke="#000" stroke-width="1.25" stroke-linejoin="miter"/>
<polygon points="344.3,1619.09 348.73,1627.29 339.87,1627.29" fill="#FCDFC2" stroke="#000" stroke-width="1.25" stroke-linejoin="miter"/>
<polygon points="349,1621.09 353.43,1629.29 344.57,1629.29" fill="#FCDFC2" stroke="#000" stroke-width="1.25" stroke-linejoin="miter"/>
<circle cx="371.3" cy="1617.3" r="4.05" fill="#EA6226" stroke="#000" stroke-width="1.2"/>
<circle cx="380.4" cy="1620" r="4.05" fill="#EA6226" stroke="#000" stroke-width="1.2"/>
<circle cx="380.4" cy="1630.1" r="4.05" fill="#EA6226" stroke="#000" stroke-width="1.2"/>
<circle cx="380.4" cy="1639.6" r="4.05" fill="#EA6226" stroke="#000" stroke-width="1.2"/>
<circle cx="371.3" cy="1645.3" r="4.05" fill="#EA6226" stroke="#000" stroke-width="1.2"/>
<circle cx="389.7" cy="1644" r="4.05" fill="#EA6226" stroke="#000" stroke-width="1.2"/>
<circle cx="380.4" cy="1661.8" r="4.05" fill="#EA6226" stroke="#000" stroke-width="1.2"/>
<circle cx="371.3" cy="1738" r="4.05" fill="#EA6226" stroke="#000" stroke-width="1.2"/>
<circle cx="380.4" cy="1738" r="4.05" fill="#EA6226" stroke="#000" stroke-width="1.2"/>
<circle cx="389.7" cy="1738" r="4.05" fill="#EA6226" stroke="#000" stroke-width="1.2"/>
<rect x="417" y="1602.7" width="7.8" height="7.8" fill="#F5A24A" stroke="#000" stroke-width="1.25"/>
<rect x="417" y="1614.4" width="7.8" height="7.8" fill="#F5A24A" stroke="#000" stroke-width="1.25"/>
<rect x="407.9" y="1624.2" width="7.8" height="7.8" fill="#F5A24A" stroke="#000" stroke-width="1.25"/>
<rect x="426.1" y="1628.8" width="7.8" height="7.8" fill="#F5A24A" stroke="#000" stroke-width="1.25"/>
<rect x="407.9" y="1633.1" width="7.8" height="7.8" fill="#F5A24A" stroke="#000" stroke-width="1.25"/>
<rect x="426.1" y="1648.5" width="7.8" height="7.8" fill="#F5A24A" stroke="#000" stroke-width="1.25"/>
<rect x="407.9" y="1656" width="7.8" height="7.8" fill="#F5A24A" stroke="#000" stroke-width="1.25"/>
<polygon points="461.5,1608.09 465.93,1616.29 457.07,1616.29" fill="#FCDFC2" stroke="#000" stroke-width="1.25" stroke-linejoin="miter"/>
<polygon points="470.8,1607.69 475.23,1615.89 466.37,1615.89" fill="#FCDFC2" stroke="#000" stroke-width="1.25" stroke-linejoin="miter"/>
<polygon points="466.3,1611.19 470.73,1619.39 461.87,1619.39" fill="#FCDFC2" stroke="#000" stroke-width="1.25" stroke-linejoin="miter"/>
<polygon points="457,1615.49 461.43,1623.69 452.57,1623.69" fill="#FCDFC2" stroke="#000" stroke-width="1.25" stroke-linejoin="miter"/>
<polygon points="461.5,1618.19 465.93,1626.39 457.07,1626.39" fill="#FCDFC2" stroke="#000" stroke-width="1.25" stroke-linejoin="miter"/>
<polygon points="466.3,1613.79 470.73,1621.99 461.87,1621.99" fill="#FCDFC2" stroke="#000" stroke-width="1.25" stroke-linejoin="miter"/>
<polygon points="461.5,1643.39 465.93,1651.59 457.07,1651.59" fill="#FCDFC2" stroke="#000" stroke-width="1.25" stroke-linejoin="miter"/>
<polygon points="461.5,1652.99 465.93,1661.19 457.07,1661.19" fill="#FCDFC2" stroke="#000" stroke-width="1.25" stroke-linejoin="miter"/>
<polygon points="452.5,1733.49 456.93,1741.69 448.07,1741.69" fill="#FCDFC2" stroke="#000" stroke-width="1.25" stroke-linejoin="miter"/>
<polygon points="457,1733.49 461.43,1741.69 452.57,1741.69" fill="#FCDFC2" stroke="#000" stroke-width="1.25" stroke-linejoin="miter"/>
<polygon points="461.5,1733.49 465.93,1741.69 457.07,1741.69" fill="#FCDFC2" stroke="#000" stroke-width="1.25" stroke-linejoin="miter"/>
<polygon points="466.3,1733.49 470.73,1741.69 461.87,1741.69" fill="#FCDFC2" stroke="#000" stroke-width="1.25" stroke-linejoin="miter"/>
<polygon points="470.8,1733.49 475.23,1741.69 466.37,1741.69" fill="#FCDFC2" stroke="#000" stroke-width="1.25" stroke-linejoin="miter"/>
<line x1="123.3" y1="1813.5" x2="231.5" y2="1813.5" stroke="#000" stroke-width="2.2"/>
<text x="177.6" y="1839.3" font-size="17.5" text-anchor="middle" fill="#111">1 d p.i.</text>
<line x1="245.1" y1="1813.5" x2="353.3" y2="1813.5" stroke="#000" stroke-width="2.2"/>
<text x="299.4" y="1839.3" font-size="17.5" text-anchor="middle" fill="#111">3 d p.i.</text>
<line x1="366.9" y1="1813.5" x2="475.1" y2="1813.5" stroke="#000" stroke-width="2.2"/>
<text x="421.2" y="1839.3" font-size="17.5" text-anchor="middle" fill="#111">6 d p.i.</text>
<text x="41.8" y="1607" font-size="17.5" font-weight="bold" text-anchor="middle" transform="rotate(-90 41.8 1607)">TNF   [pg/g]</text>
<text x="299.5" y="1445.7" font-size="17.5" text-anchor="middle" fill="#111">MRSA</text>
<text x="605.8" y="1452.7" font-size="46" font-weight="bold">i</text>
<line x1="699.5" y1="1738" x2="708.5" y2="1738" stroke="#000" stroke-width="2.6"/>
<text x="696.9" y="1743.9" font-size="16.5" font-weight="bold" text-anchor="end">1</text>
<line x1="699.5" y1="1674.67" x2="708.5" y2="1674.67" stroke="#000" stroke-width="2.6"/>
<text x="696.9" y="1680.58" font-size="16.5" font-weight="bold" text-anchor="end">10</text>
<line x1="699.5" y1="1611.35" x2="708.5" y2="1611.35" stroke="#000" stroke-width="2.6"/>
<text x="696.9" y="1617.25" font-size="16.5" font-weight="bold" text-anchor="end">100</text>
<line x1="699.5" y1="1548.03" x2="708.5" y2="1548.03" stroke="#000" stroke-width="2.6"/>
<text x="696.9" y="1553.93" font-size="16.5" font-weight="bold" text-anchor="end">1000</text>
<line x1="699.5" y1="1484.7" x2="708.5" y2="1484.7" stroke="#000" stroke-width="2.6"/>
<text x="696.9" y="1490.6" font-size="16.5" font-weight="bold" text-anchor="end">10000</text>
<line x1="837.7" y1="1486.2" x2="837.7" y2="1734.5" stroke="#000" stroke-width="1.3" stroke-dasharray="3.6 2.6"/>
<line x1="959.3" y1="1486.2" x2="959.3" y2="1734.5" stroke="#000" stroke-width="1.3" stroke-dasharray="3.6 2.6"/>
<line x1="708.5" y1="1483.5" x2="708.5" y2="1739.2" stroke="#000" stroke-width="2.4"/>
<line x1="707.3" y1="1738" x2="1090" y2="1738" stroke="#000" stroke-width="2.4"/>
<line x1="735.5" y1="1738" x2="735.5" y2="1747" stroke="#000" stroke-width="2.3"/>
<text x="742.2" y="1762" font-size="16.5" font-weight="bold" text-anchor="end" transform="rotate(-45 742.2 1762)">PBS</text>
<line x1="776.1" y1="1738" x2="776.1" y2="1747" stroke="#000" stroke-width="2.3"/>
<text x="782.8" y="1762" font-size="16.5" font-weight="bold" text-anchor="end" transform="rotate(-45 782.8 1762)">Poly(I:C)</text>
<line x1="816.7" y1="1738" x2="816.7" y2="1747" stroke="#000" stroke-width="2.3"/>
<text x="823.4" y="1762" font-size="16.5" font-weight="bold" text-anchor="end" transform="rotate(-45 823.4 1762)">IAV</text>
<line x1="857.3" y1="1738" x2="857.3" y2="1747" stroke="#000" stroke-width="2.3"/>
<text x="864" y="1762" font-size="16.5" font-weight="bold" text-anchor="end" transform="rotate(-45 864 1762)">PBS</text>
<line x1="897.9" y1="1738" x2="897.9" y2="1747" stroke="#000" stroke-width="2.3"/>
<text x="904.6" y="1762" font-size="16.5" font-weight="bold" text-anchor="end" transform="rotate(-45 904.6 1762)">Poly(I:C)</text>
<line x1="938.5" y1="1738" x2="938.5" y2="1747" stroke="#000" stroke-width="2.3"/>
<text x="945.2" y="1762" font-size="16.5" font-weight="bold" text-anchor="end" transform="rotate(-45 945.2 1762)">IAV</text>
<line x1="979.1" y1="1738" x2="979.1" y2="1747" stroke="#000" stroke-width="2.3"/>
<text x="985.8" y="1762" font-size="16.5" font-weight="bold" text-anchor="end" transform="rotate(-45 985.8 1762)">PBS</text>
<line x1="1019.7" y1="1738" x2="1019.7" y2="1747" stroke="#000" stroke-width="2.3"/>
<text x="1026.4" y="1762" font-size="16.5" font-weight="bold" text-anchor="end" transform="rotate(-45 1026.4 1762)">Poly(I:C)</text>
<line x1="1060.3" y1="1738" x2="1060.3" y2="1747" stroke="#000" stroke-width="2.3"/>
<text x="1067" y="1762" font-size="16.5" font-weight="bold" text-anchor="end" transform="rotate(-45 1067 1762)">IAV</text>
<line x1="735.5" y1="1547.2" x2="735.5" y2="1529.3" stroke="#333" stroke-width="1.2"/>
<line x1="728.8" y1="1529.3" x2="742.2" y2="1529.3" stroke="#333" stroke-width="1.4"/>
<rect x="722.6" y="1547.2" width="25.8" height="190.8" fill="#EA6226" stroke="#111" stroke-width="1.15"/>
<line x1="776.1" y1="1566.8" x2="776.1" y2="1547.5" stroke="#333" stroke-width="1.2"/>
<line x1="769.4" y1="1547.5" x2="782.8" y2="1547.5" stroke="#333" stroke-width="1.4"/>
<rect x="763.2" y="1566.8" width="25.8" height="171.2" fill="#F5A24A" stroke="#111" stroke-width="1.15"/>
<line x1="816.7" y1="1543.8" x2="816.7" y2="1522.3" stroke="#333" stroke-width="1.2"/>
<line x1="810" y1="1522.3" x2="823.4" y2="1522.3" stroke="#333" stroke-width="1.4"/>
<rect x="803.8" y="1543.8" width="25.8" height="194.2" fill="#FCDFC2" stroke="#111" stroke-width="1.15"/>
<line x1="857.3" y1="1629.2" x2="857.3" y2="1615.7" stroke="#333" stroke-width="1.2"/>
<line x1="850.6" y1="1615.7" x2="864" y2="1615.7" stroke="#333" stroke-width="1.4"/>
<rect x="844.4" y="1629.2" width="25.8" height="108.8" fill="#EA6226" stroke="#111" stroke-width="1.15"/>
<line x1="897.9" y1="1619.2" x2="897.9" y2="1600.5" stroke="#333" stroke-width="1.2"/>
<line x1="891.2" y1="1600.5" x2="904.6" y2="1600.5" stroke="#333" stroke-width="1.4"/>
<rect x="885" y="1619.2" width="25.8" height="118.8" fill="#F5A24A" stroke="#111" stroke-width="1.15"/>
<line x1="938.5" y1="1603.4" x2="938.5" y2="1583" stroke="#333" stroke-width="1.2"/>
<line x1="931.8" y1="1583" x2="945.2" y2="1583" stroke="#333" stroke-width="1.4"/>
<rect x="925.6" y="1603.4" width="25.8" height="134.6" fill="#FCDFC2" stroke="#111" stroke-width="1.15"/>
<line x1="979.1" y1="1670" x2="979.1" y2="1647.4" stroke="#333" stroke-width="1.2"/>
<line x1="972.4" y1="1647.4" x2="985.8" y2="1647.4" stroke="#333" stroke-width="1.4"/>
<rect x="966.2" y="1670" width="25.8" height="68" fill="#EA6226" stroke="#111" stroke-width="1.15"/>
<line x1="1019.7" y1="1651.4" x2="1019.7" y2="1626.4" stroke="#333" stroke-width="1.2"/>
<line x1="1013" y1="1626.4" x2="1026.4" y2="1626.4" stroke="#333" stroke-width="1.4"/>
<rect x="1006.8" y="1651.4" width="25.8" height="86.6" fill="#F5A24A" stroke="#111" stroke-width="1.15"/>
<line x1="1060.3" y1="1605.1" x2="1060.3" y2="1574.3" stroke="#333" stroke-width="1.2"/>
<line x1="1053.6" y1="1574.3" x2="1067" y2="1574.3" stroke="#333" stroke-width="1.4"/>
<rect x="1047.4" y="1605.1" width="25.8" height="132.9" fill="#FCDFC2" stroke="#111" stroke-width="1.15"/>
<circle cx="735.6" cy="1517" r="4.05" fill="#EA6226" stroke="#000" stroke-width="1.2"/>
<circle cx="735.6" cy="1531.9" r="4.05" fill="#EA6226" stroke="#000" stroke-width="1.2"/>
<circle cx="726.5" cy="1541.5" r="4.05" fill="#EA6226" stroke="#000" stroke-width="1.2"/>
<circle cx="735.6" cy="1548.7" r="4.05" fill="#EA6226" stroke="#000" stroke-width="1.2"/>
<circle cx="744.9" cy="1548" r="4.05" fill="#EA6226" stroke="#000" stroke-width="1.2"/>
<circle cx="726.5" cy="1566.5" r="4.05" fill="#EA6226" stroke="#000" stroke-width="1.2"/>
<circle cx="744.9" cy="1567" r="4.05" fill="#EA6226" stroke="#000" stroke-width="1.2"/>
<circle cx="735.6" cy="1574" r="4.05" fill="#EA6226" stroke="#000" stroke-width="1.2"/>
<circle cx="735.6" cy="1645.4" r="4.05" fill="#EA6226" stroke="#000" stroke-width="1.2"/>
<rect x="772.4" y="1537.3" width="7.8" height="7.8" fill="#F5A24A" stroke="#000" stroke-width="1.25"/>
<rect x="781.6" y="1546.1" width="7.8" height="7.8" fill="#F5A24A" stroke="#000" stroke-width="1.25"/>
<rect x="763" y="1553.5" width="7.8" height="7.8" fill="#F5A24A" stroke="#000" stroke-width="1.25"/>
<rect x="781.6" y="1556.9" width="7.8" height="7.8" fill="#F5A24A" stroke="#000" stroke-width="1.25"/>
<rect x="772.4" y="1614.1" width="7.8" height="7.8" fill="#F5A24A" stroke="#000" stroke-width="1.25"/>
<rect x="772.4" y="1634.1" width="7.8" height="7.8" fill="#F5A24A" stroke="#000" stroke-width="1.25"/>
<rect x="772.4" y="1666.2" width="7.8" height="7.8" fill="#F5A24A" stroke="#000" stroke-width="1.25"/>
<polygon points="807.6,1509.09 812.03,1517.29 803.17,1517.29" fill="#FCDFC2" stroke="#000" stroke-width="1.25" stroke-linejoin="miter"/>
<polygon points="821.6,1508.19 826.03,1516.39 817.17,1516.39" fill="#FCDFC2" stroke="#000" stroke-width="1.25" stroke-linejoin="miter"/>
<polygon points="816.7,1521.49 821.13,1529.69 812.27,1529.69" fill="#FCDFC2" stroke="#000" stroke-width="1.25" stroke-linejoin="miter"/>
<polygon points="807.6,1545.49 812.03,1553.69 803.17,1553.69" fill="#FCDFC2" stroke="#000" stroke-width="1.25" stroke-linejoin="miter"/>
<polygon points="816.7,1547.19 821.13,1555.39 812.27,1555.39" fill="#FCDFC2" stroke="#000" stroke-width="1.25" stroke-linejoin="miter"/>
<polygon points="816.7,1556.59 821.13,1564.79 812.27,1564.79" fill="#FCDFC2" stroke="#000" stroke-width="1.25" stroke-linejoin="miter"/>
<polygon points="807.6,1569.09 812.03,1577.29 803.17,1577.29" fill="#FCDFC2" stroke="#000" stroke-width="1.25" stroke-linejoin="miter"/>
<polygon points="826.3,1571.59 830.73,1579.79 821.87,1579.79" fill="#FCDFC2" stroke="#000" stroke-width="1.25" stroke-linejoin="miter"/>
<polygon points="816.7,1576.09 821.13,1584.29 812.27,1584.29" fill="#FCDFC2" stroke="#000" stroke-width="1.25" stroke-linejoin="miter"/>
<polygon points="816.7,1599.29 821.13,1607.49 812.27,1607.49" fill="#FCDFC2" stroke="#000" stroke-width="1.25" stroke-linejoin="miter"/>
<polygon points="816.7,1683.49 821.13,1691.69 812.27,1691.69" fill="#FCDFC2" stroke="#000" stroke-width="1.25" stroke-linejoin="miter"/>
<circle cx="852.8" cy="1611.5" r="4.05" fill="#EA6226" stroke="#000" stroke-width="1.2"/>
<circle cx="861.6" cy="1608.8" r="4.05" fill="#EA6226" stroke="#000" stroke-width="1.2"/>
<circle cx="848.2" cy="1627.2" r="4.05" fill="#EA6226" stroke="#000" stroke-width="1.2"/>
<circle cx="857.5" cy="1625.7" r="4.05" fill="#EA6226" stroke="#000" stroke-width="1.2"/>
<circle cx="866.8" cy="1624.6" r="4.05" fill="#EA6226" stroke="#000" stroke-width="1.2"/>
<circle cx="857.5" cy="1636.8" r="4.05" fill="#EA6226" stroke="#000" stroke-width="1.2"/>
<circle cx="866.8" cy="1634" r="4.05" fill="#EA6226" stroke="#000" stroke-width="1.2"/>
<circle cx="848.2" cy="1655.3" r="4.05" fill="#EA6226" stroke="#000" stroke-width="1.2"/>
<circle cx="857.5" cy="1653.3" r="4.05" fill="#EA6226" stroke="#000" stroke-width="1.2"/>
<circle cx="866.8" cy="1654.5" r="4.05" fill="#EA6226" stroke="#000" stroke-width="1.2"/>
<rect x="885.1" y="1589" width="7.8" height="7.8" fill="#F5A24A" stroke="#000" stroke-width="1.25"/>
<rect x="903.3" y="1594.1" width="7.8" height="7.8" fill="#F5A24A" stroke="#000" stroke-width="1.25"/>
<rect x="894" y="1619" width="7.8" height="7.8" fill="#F5A24A" stroke="#000" stroke-width="1.25"/>
<rect x="885.1" y="1634.9" width="7.8" height="7.8" fill="#F5A24A" stroke="#000" stroke-width="1.25"/>
<rect x="903.3" y="1633.6" width="7.8" height="7.8" fill="#F5A24A" stroke="#000" stroke-width="1.25"/>
<rect x="903.3" y="1647.3" width="7.8" height="7.8" fill="#F5A24A" stroke="#000" stroke-width="1.25"/>
<rect x="885.1" y="1650.8" width="7.8" height="7.8" fill="#F5A24A" stroke="#000" stroke-width="1.25"/>
<polygon points="938.6,1562.89 943.03,1571.09 934.17,1571.09" fill="#FCDFC2" stroke="#000" stroke-width="1.25" stroke-linejoin="miter"/>
<polygon points="941.6,1573.79 946.03,1581.99 937.17,1581.99" fill="#FCDFC2" stroke="#000" stroke-width="1.25" stroke-linejoin="miter"/>
<polygon points="935.4,1582.09 939.83,1590.29 930.97,1590.29" fill="#FCDFC2" stroke="#000" stroke-width="1.25" stroke-linejoin="miter"/>
<polygon points="941.6,1604.29 946.03,1612.49 937.17,1612.49" fill="#FCDFC2" stroke="#000" stroke-width="1.25" stroke-linejoin="miter"/>
<polygon points="929.4,1610.79 933.83,1618.99 924.97,1618.99" fill="#FCDFC2" stroke="#000" stroke-width="1.25" stroke-linejoin="miter"/>
<polygon points="935.4,1610.39 939.83,1618.59 930.97,1618.59" fill="#FCDFC2" stroke="#000" stroke-width="1.25" stroke-linejoin="miter"/>
<polygon points="947.8,1609.49 952.23,1617.69 943.37,1617.69" fill="#FCDFC2" stroke="#000" stroke-width="1.25" stroke-linejoin="miter"/>
<polygon points="941.6,1612.99 946.03,1621.19 937.17,1621.19" fill="#FCDFC2" stroke="#000" stroke-width="1.25" stroke-linejoin="miter"/>
<polygon points="935.4,1621.19 939.83,1629.39 930.97,1629.39" fill="#FCDFC2" stroke="#000" stroke-width="1.25" stroke-linejoin="miter"/>
<polygon points="941.6,1623.39 946.03,1631.59 937.17,1631.59" fill="#FCDFC2" stroke="#000" stroke-width="1.25" stroke-linejoin="miter"/>
<polygon points="935.4,1630.39 939.83,1638.59 930.97,1638.59" fill="#FCDFC2" stroke="#000" stroke-width="1.25" stroke-linejoin="miter"/>
<polygon points="935.4,1639.99 939.83,1648.19 930.97,1648.19" fill="#FCDFC2" stroke="#000" stroke-width="1.25" stroke-linejoin="miter"/>
<polygon points="941.6,1639.49 946.03,1647.69 937.17,1647.69" fill="#FCDFC2" stroke="#000" stroke-width="1.25" stroke-linejoin="miter"/>
<circle cx="976.7" cy="1640.1" r="4.05" fill="#EA6226" stroke="#000" stroke-width="1.2"/>
<circle cx="981.5" cy="1635.8" r="4.05" fill="#EA6226" stroke="#000" stroke-width="1.2"/>
<circle cx="974.6" cy="1661.6" r="4.05" fill="#EA6226" stroke="#000" stroke-width="1.2"/>
<circle cx="984.1" cy="1666.6" r="4.05" fill="#EA6226" stroke="#000" stroke-width="1.2"/>
<circle cx="979.2" cy="1672.1" r="4.05" fill="#EA6226" stroke="#000" stroke-width="1.2"/>
<circle cx="970" cy="1738" r="4.05" fill="#EA6226" stroke="#000" stroke-width="1.2"/>
<circle cx="974.6" cy="1738" r="4.05" fill="#EA6226" stroke="#000" stroke-width="1.2"/>
<circle cx="979.2" cy="1738" r="4.05" fill="#EA6226" stroke="#000" stroke-width="1.2"/>
<circle cx="984" cy="1738" r="4.05" fill="#EA6226" stroke="#000" stroke-width="1.2"/>
<circle cx="988.6" cy="1738" r="4.05" fill="#EA6226" stroke="#000" stroke-width="1.2"/>
<rect x="1015.7" y="1609.7" width="7.8" height="7.8" fill="#F5A24A" stroke="#000" stroke-width="1.25"/>
<rect x="1015.7" y="1628.5" width="7.8" height="7.8" fill="#F5A24A" stroke="#000" stroke-width="1.25"/>
<rect x="1006.7" y="1670.5" width="7.8" height="7.8" fill="#F5A24A" stroke="#000" stroke-width="1.25"/>
<rect x="1025" y="1671.4" width="7.8" height="7.8" fill="#F5A24A" stroke="#000" stroke-width="1.25"/>
<rect x="1015.7" y="1681.9" width="7.8" height="7.8" fill="#F5A24A" stroke="#000" stroke-width="1.25"/>
<rect x="1015.7" y="1704.4" width="7.8" height="7.8" fill="#F5A24A" stroke="#000" stroke-width="1.25"/>
<rect x="1015.7" y="1734.1" width="7.8" height="7.8" fill="#F5A24A" stroke="#000" stroke-width="1.25"/>
<polygon points="1051.3,1552.39 1055.73,1560.59 1046.87,1560.59" fill="#FCDFC2" stroke="#000" stroke-width="1.25" stroke-linejoin="miter"/>
<polygon points="1060.4,1558.19 1064.83,1566.39 1055.97,1566.39" fill="#FCDFC2" stroke="#000" stroke-width="1.25" stroke-linejoin="miter"/>
<polygon points="1051.3,1631.09 1055.73,1639.29 1046.87,1639.29" fill="#FCDFC2" stroke="#000" stroke-width="1.25" stroke-linejoin="miter"/>
<polygon points="1060.4,1628.29 1064.83,1636.49 1055.97,1636.49" fill="#FCDFC2" stroke="#000" stroke-width="1.25" stroke-linejoin="miter"/>
<polygon points="1069.5,1624.69 1073.93,1632.89 1065.07,1632.89" fill="#FCDFC2" stroke="#000" stroke-width="1.25" stroke-linejoin="miter"/>
<polygon points="1069.5,1632.89 1073.93,1641.09 1065.07,1641.09" fill="#FCDFC2" stroke="#000" stroke-width="1.25" stroke-linejoin="miter"/>
<polygon points="1060.4,1663.99 1064.83,1672.19 1055.97,1672.19" fill="#FCDFC2" stroke="#000" stroke-width="1.25" stroke-linejoin="miter"/>
<polygon points="1060.4,1679.99 1064.83,1688.19 1055.97,1688.19" fill="#FCDFC2" stroke="#000" stroke-width="1.25" stroke-linejoin="miter"/>
<polygon points="1060.4,1692.79 1064.83,1700.99 1055.97,1700.99" fill="#FCDFC2" stroke="#000" stroke-width="1.25" stroke-linejoin="miter"/>
<polygon points="1051.3,1733.49 1055.73,1741.69 1046.87,1741.69" fill="#FCDFC2" stroke="#000" stroke-width="1.25" stroke-linejoin="miter"/>
<polygon points="1060.4,1733.49 1064.83,1741.69 1055.97,1741.69" fill="#FCDFC2" stroke="#000" stroke-width="1.25" stroke-linejoin="miter"/>
<polygon points="1069.5,1733.49 1073.93,1741.69 1065.07,1741.69" fill="#FCDFC2" stroke="#000" stroke-width="1.25" stroke-linejoin="miter"/>
<line x1="721.8" y1="1813.5" x2="830" y2="1813.5" stroke="#000" stroke-width="2.2"/>
<text x="776.1" y="1839.3" font-size="17.5" text-anchor="middle" fill="#111">1 d p.i.</text>
<line x1="843.6" y1="1813.5" x2="951.8" y2="1813.5" stroke="#000" stroke-width="2.2"/>
<text x="897.9" y="1839.3" font-size="17.5" text-anchor="middle" fill="#111">3 d p.i.</text>
<line x1="965.4" y1="1813.5" x2="1073.6" y2="1813.5" stroke="#000" stroke-width="2.2"/>
<text x="1019.7" y="1839.3" font-size="17.5" text-anchor="middle" fill="#111">6 d p.i.</text>
<text x="641.5" y="1611.8" font-size="17.5" font-weight="bold" text-anchor="middle" transform="rotate(-90 641.5 1611.8)">IL-6 [pg/g]</text>
<text x="898" y="1445.7" font-size="17.5" text-anchor="middle" fill="#111">MRSA</text>
<text x="1204" y="1452.7" font-size="46" font-weight="bold">j</text>
<line x1="1298" y1="1738" x2="1307" y2="1738" stroke="#000" stroke-width="2.6"/>
<text x="1295.4" y="1743.9" font-size="16.5" font-weight="bold" text-anchor="end">1</text>
<line x1="1298" y1="1653.57" x2="1307" y2="1653.57" stroke="#000" stroke-width="2.6"/>
<text x="1295.4" y="1659.47" font-size="16.5" font-weight="bold" text-anchor="end">10</text>
<line x1="1298" y1="1569.13" x2="1307" y2="1569.13" stroke="#000" stroke-width="2.6"/>
<text x="1295.4" y="1575.03" font-size="16.5" font-weight="bold" text-anchor="end">100</text>
<line x1="1298" y1="1484.7" x2="1307" y2="1484.7" stroke="#000" stroke-width="2.6"/>
<text x="1295.4" y="1490.6" font-size="16.5" font-weight="bold" text-anchor="end">1000</text>
<line x1="1436.2" y1="1486.2" x2="1436.2" y2="1734.5" stroke="#000" stroke-width="1.3" stroke-dasharray="3.6 2.6"/>
<line x1="1557.8" y1="1486.2" x2="1557.8" y2="1734.5" stroke="#000" stroke-width="1.3" stroke-dasharray="3.6 2.6"/>
<line x1="1307" y1="1483.5" x2="1307" y2="1739.2" stroke="#000" stroke-width="2.4"/>
<line x1="1305.8" y1="1738" x2="1688.5" y2="1738" stroke="#000" stroke-width="2.4"/>
<line x1="1334" y1="1738" x2="1334" y2="1747" stroke="#000" stroke-width="2.3"/>
<text x="1340.7" y="1762" font-size="16.5" font-weight="bold" text-anchor="end" transform="rotate(-45 1340.7 1762)">PBS</text>
<line x1="1374.6" y1="1738" x2="1374.6" y2="1747" stroke="#000" stroke-width="2.3"/>
<text x="1381.3" y="1762" font-size="16.5" font-weight="bold" text-anchor="end" transform="rotate(-45 1381.3 1762)">Poly(I:C)</text>
<line x1="1415.2" y1="1738" x2="1415.2" y2="1747" stroke="#000" stroke-width="2.3"/>
<text x="1421.9" y="1762" font-size="16.5" font-weight="bold" text-anchor="end" transform="rotate(-45 1421.9 1762)">IAV</text>
<line x1="1455.8" y1="1738" x2="1455.8" y2="1747" stroke="#000" stroke-width="2.3"/>
<text x="1462.5" y="1762" font-size="16.5" font-weight="bold" text-anchor="end" transform="rotate(-45 1462.5 1762)">PBS</text>
<line x1="1496.4" y1="1738" x2="1496.4" y2="1747" stroke="#000" stroke-width="2.3"/>
<text x="1503.1" y="1762" font-size="16.5" font-weight="bold" text-anchor="end" transform="rotate(-45 1503.1 1762)">Poly(I:C)</text>
<line x1="1537" y1="1738" x2="1537" y2="1747" stroke="#000" stroke-width="2.3"/>
<text x="1543.7" y="1762" font-size="16.5" font-weight="bold" text-anchor="end" transform="rotate(-45 1543.7 1762)">IAV</text>
<line x1="1577.6" y1="1738" x2="1577.6" y2="1747" stroke="#000" stroke-width="2.3"/>
<text x="1584.3" y="1762" font-size="16.5" font-weight="bold" text-anchor="end" transform="rotate(-45 1584.3 1762)">PBS</text>
<line x1="1618.2" y1="1738" x2="1618.2" y2="1747" stroke="#000" stroke-width="2.3"/>
<text x="1624.9" y="1762" font-size="16.5" font-weight="bold" text-anchor="end" transform="rotate(-45 1624.9 1762)">Poly(I:C)</text>
<line x1="1658.8" y1="1738" x2="1658.8" y2="1747" stroke="#000" stroke-width="2.3"/>
<text x="1665.5" y="1762" font-size="16.5" font-weight="bold" text-anchor="end" transform="rotate(-45 1665.5 1762)">IAV</text>
<line x1="1334" y1="1607.7" x2="1334" y2="1585.1" stroke="#333" stroke-width="1.2"/>
<line x1="1327.3" y1="1585.1" x2="1340.7" y2="1585.1" stroke="#333" stroke-width="1.4"/>
<rect x="1321.1" y="1607.7" width="25.8" height="130.3" fill="#EA6226" stroke="#111" stroke-width="1.15"/>
<line x1="1374.6" y1="1600.2" x2="1374.6" y2="1578.4" stroke="#333" stroke-width="1.2"/>
<line x1="1367.9" y1="1578.4" x2="1381.3" y2="1578.4" stroke="#333" stroke-width="1.4"/>
<rect x="1361.7" y="1600.2" width="25.8" height="137.8" fill="#F5A24A" stroke="#111" stroke-width="1.15"/>
<line x1="1415.2" y1="1599" x2="1415.2" y2="1572.5" stroke="#333" stroke-width="1.2"/>
<line x1="1408.5" y1="1572.5" x2="1421.9" y2="1572.5" stroke="#333" stroke-width="1.4"/>
<rect x="1402.3" y="1599" width="25.8" height="139" fill="#FCDFC2" stroke="#111" stroke-width="1.15"/>
<line x1="1455.8" y1="1609.2" x2="1455.8" y2="1589.4" stroke="#333" stroke-width="1.2"/>
<line x1="1449.1" y1="1589.4" x2="1462.5" y2="1589.4" stroke="#333" stroke-width="1.4"/>
<rect x="1442.9" y="1609.2" width="25.8" height="128.8" fill="#EA6226" stroke="#111" stroke-width="1.15"/>
<line x1="1496.4" y1="1594.9" x2="1496.4" y2="1566.5" stroke="#333" stroke-width="1.2"/>
<line x1="1489.7" y1="1566.5" x2="1503.1" y2="1566.5" stroke="#333" stroke-width="1.4"/>
<rect x="1483.5" y="1594.9" width="25.8" height="143.1" fill="#F5A24A" stroke="#111" stroke-width="1.15"/>
<line x1="1537" y1="1606.8" x2="1537" y2="1581.6" stroke="#333" stroke-width="1.2"/>
<line x1="1530.3" y1="1581.6" x2="1543.7" y2="1581.6" stroke="#333" stroke-width="1.4"/>
<rect x="1524.1" y="1606.8" width="25.8" height="131.2" fill="#FCDFC2" stroke="#111" stroke-width="1.15"/>
<line x1="1577.6" y1="1598.6" x2="1577.6" y2="1582.4" stroke="#333" stroke-width="1.2"/>
<line x1="1570.9" y1="1582.4" x2="1584.3" y2="1582.4" stroke="#333" stroke-width="1.4"/>
<rect x="1564.7" y="1598.6" width="25.8" height="139.4" fill="#EA6226" stroke="#111" stroke-width="1.15"/>
<line x1="1618.2" y1="1578.7" x2="1618.2" y2="1560.3" stroke="#333" stroke-width="1.2"/>
<line x1="1611.5" y1="1560.3" x2="1624.9" y2="1560.3" stroke="#333" stroke-width="1.4"/>
<rect x="1605.3" y="1578.7" width="25.8" height="159.3" fill="#F5A24A" stroke="#111" stroke-width="1.15"/>
<line x1="1658.8" y1="1596.4" x2="1658.8" y2="1578" stroke="#333" stroke-width="1.2"/>
<line x1="1652.1" y1="1578" x2="1665.5" y2="1578" stroke="#333" stroke-width="1.4"/>
<rect x="1645.9" y="1596.4" width="25.8" height="141.6" fill="#FCDFC2" stroke="#111" stroke-width="1.15"/>
<circle cx="1331.2" cy="1573.8" r="4.05" fill="#EA6226" stroke="#000" stroke-width="1.2"/>
<circle cx="1337.6" cy="1573.8" r="4.05" fill="#EA6226" stroke="#000" stroke-width="1.2"/>
<circle cx="1325" cy="1610.2" r="4.05" fill="#EA6226" stroke="#000" stroke-width="1.2"/>
<circle cx="1344" cy="1605.7" r="4.05" fill="#EA6226" stroke="#000" stroke-width="1.2"/>
<circle cx="1331.2" cy="1614.1" r="4.05" fill="#EA6226" stroke="#000" stroke-width="1.2"/>
<circle cx="1337.6" cy="1613.2" r="4.05" fill="#EA6226" stroke="#000" stroke-width="1.2"/>
<circle cx="1337.6" cy="1633.1" r="4.05" fill="#EA6226" stroke="#000" stroke-width="1.2"/>
<circle cx="1331.2" cy="1637.4" r="4.05" fill="#EA6226" stroke="#000" stroke-width="1.2"/>
<circle cx="1334.4" cy="1648.4" r="4.05" fill="#EA6226" stroke="#000" stroke-width="1.2"/>
<circle cx="1334.4" cy="1663" r="4.05" fill="#EA6226" stroke="#000" stroke-width="1.2"/>
<rect x="1361.9" y="1568.1" width="7.8" height="7.8" fill="#F5A24A" stroke="#000" stroke-width="1.25"/>
<rect x="1380.4" y="1573.1" width="7.8" height="7.8" fill="#F5A24A" stroke="#000" stroke-width="1.25"/>
<rect x="1371" y="1587.8" width="7.8" height="7.8" fill="#F5A24A" stroke="#000" stroke-width="1.25"/>
<rect x="1371" y="1598.7" width="7.8" height="7.8" fill="#F5A24A" stroke="#000" stroke-width="1.25"/>
<rect x="1371" y="1614.3" width="7.8" height="7.8" fill="#F5A24A" stroke="#000" stroke-width="1.25"/>
<rect x="1371" y="1636.7" width="7.8" height="7.8" fill="#F5A24A" stroke="#000" stroke-width="1.25"/>
<rect x="1371" y="1734.1" width="7.8" height="7.8" fill="#F5A24A" stroke="#000" stroke-width="1.25"/>
<polygon points="1418.7,1550.59 1423.13,1558.79 1414.27,1558.79" fill="#FCDFC2" stroke="#000" stroke-width="1.25" stroke-linejoin="miter"/>
<polygon points="1412.7,1558.39 1417.13,1566.59 1408.27,1566.59" fill="#FCDFC2" stroke="#000" stroke-width="1.25" stroke-linejoin="miter"/>
<polygon points="1406.4,1603.19 1410.83,1611.39 1401.97,1611.39" fill="#FCDFC2" stroke="#000" stroke-width="1.25" stroke-linejoin="miter"/>
<polygon points="1424.8,1603.89 1429.23,1612.09 1420.37,1612.09" fill="#FCDFC2" stroke="#000" stroke-width="1.25" stroke-linejoin="miter"/>
<polygon points="1412.7,1607.69 1417.13,1615.89 1408.27,1615.89" fill="#FCDFC2" stroke="#000" stroke-width="1.25" stroke-linejoin="miter"/>
<polygon points="1418.7,1608.69 1423.13,1616.89 1414.27,1616.89" fill="#FCDFC2" stroke="#000" stroke-width="1.25" stroke-linejoin="miter"/>
<polygon points="1406.4,1615.99 1410.83,1624.19 1401.97,1624.19" fill="#FCDFC2" stroke="#000" stroke-width="1.25" stroke-linejoin="miter"/>
<polygon points="1418.7,1618.29 1423.13,1626.49 1414.27,1626.49" fill="#FCDFC2" stroke="#000" stroke-width="1.25" stroke-linejoin="miter"/>
<polygon points="1424.8,1614.09 1429.23,1622.29 1420.37,1622.29" fill="#FCDFC2" stroke="#000" stroke-width="1.25" stroke-linejoin="miter"/>
<polygon points="1415.6,1633.29 1420.03,1641.49 1411.17,1641.49" fill="#FCDFC2" stroke="#000" stroke-width="1.25" stroke-linejoin="miter"/>
<polygon points="1415.6,1664.39 1420.03,1672.59 1411.17,1672.59" fill="#FCDFC2" stroke="#000" stroke-width="1.25" stroke-linejoin="miter"/>
<circle cx="1456.2" cy="1576.8" r="4.05" fill="#EA6226" stroke="#000" stroke-width="1.2"/>
<circle cx="1456.2" cy="1585.3" r="4.05" fill="#EA6226" stroke="#000" stroke-width="1.2"/>
<circle cx="1447.1" cy="1597.8" r="4.05" fill="#EA6226" stroke="#000" stroke-width="1.2"/>
<circle cx="1465.7" cy="1604.7" r="4.05" fill="#EA6226" stroke="#000" stroke-width="1.2"/>
<circle cx="1456.2" cy="1612.5" r="4.05" fill="#EA6226" stroke="#000" stroke-width="1.2"/>
<circle cx="1447.1" cy="1624.6" r="4.05" fill="#EA6226" stroke="#000" stroke-width="1.2"/>
<circle cx="1456.2" cy="1624.1" r="4.05" fill="#EA6226" stroke="#000" stroke-width="1.2"/>
<circle cx="1465.7" cy="1629.6" r="4.05" fill="#EA6226" stroke="#000" stroke-width="1.2"/>
<circle cx="1456.2" cy="1634.4" r="4.05" fill="#EA6226" stroke="#000" stroke-width="1.2"/>
<circle cx="1456.2" cy="1700.5" r="4.05" fill="#EA6226" stroke="#000" stroke-width="1.2"/>
<rect x="1493" y="1549.8" width="7.8" height="7.8" fill="#F5A24A" stroke="#000" stroke-width="1.25"/>
<rect x="1493" y="1561" width="7.8" height="7.8" fill="#F5A24A" stroke="#000" stroke-width="1.25"/>
<rect x="1493" y="1602.9" width="7.8" height="7.8" fill="#F5A24A" stroke="#000" stroke-width="1.25"/>
<rect x="1502.1" y="1624.8" width="7.8" height="7.8" fill="#F5A24A" stroke="#000" stroke-width="1.25"/>
<rect x="1483.7" y="1631.9" width="7.8" height="7.8" fill="#F5A24A" stroke="#000" stroke-width="1.25"/>
<rect x="1493" y="1647.5" width="7.8" height="7.8" fill="#F5A24A" stroke="#000" stroke-width="1.25"/>
<rect x="1493" y="1661.8" width="7.8" height="7.8" fill="#F5A24A" stroke="#000" stroke-width="1.25"/>
<polygon points="1532.6,1565.19 1537.03,1573.39 1528.17,1573.39" fill="#FCDFC2" stroke="#000" stroke-width="1.25" stroke-linejoin="miter"/>
<polygon points="1542,1563.39 1546.43,1571.59 1537.57,1571.59" fill="#FCDFC2" stroke="#000" stroke-width="1.25" stroke-linejoin="miter"/>
<polygon points="1537.4,1580.29 1541.83,1588.49 1532.97,1588.49" fill="#FCDFC2" stroke="#000" stroke-width="1.25" stroke-linejoin="miter"/>
<polygon points="1528.3,1600.39 1532.73,1608.59 1523.87,1608.59" fill="#FCDFC2" stroke="#000" stroke-width="1.25" stroke-linejoin="miter"/>
<polygon points="1537.4,1598.59 1541.83,1606.79 1532.97,1606.79" fill="#FCDFC2" stroke="#000" stroke-width="1.25" stroke-linejoin="miter"/>
<polygon points="1546.8,1598.09 1551.23,1606.29 1542.37,1606.29" fill="#FCDFC2" stroke="#000" stroke-width="1.25" stroke-linejoin="miter"/>
<polygon points="1537.4,1615.49 1541.83,1623.69 1532.97,1623.69" fill="#FCDFC2" stroke="#000" stroke-width="1.25" stroke-linejoin="miter"/>
<polygon points="1546.8,1621.89 1551.23,1630.09 1542.37,1630.09" fill="#FCDFC2" stroke="#000" stroke-width="1.25" stroke-linejoin="miter"/>
<polygon points="1537.4,1625.59 1541.83,1633.79 1532.97,1633.79" fill="#FCDFC2" stroke="#000" stroke-width="1.25" stroke-linejoin="miter"/>
<polygon points="1542,1642.89 1546.43,1651.09 1537.57,1651.09" fill="#FCDFC2" stroke="#000" stroke-width="1.25" stroke-linejoin="miter"/>
<polygon points="1532.6,1647.19 1537.03,1655.39 1528.17,1655.39" fill="#FCDFC2" stroke="#000" stroke-width="1.25" stroke-linejoin="miter"/>
<polygon points="1532.6,1733.49 1537.03,1741.69 1528.17,1741.69" fill="#FCDFC2" stroke="#000" stroke-width="1.25" stroke-linejoin="miter"/>
<polygon points="1542,1733.49 1546.43,1741.69 1537.57,1741.69" fill="#FCDFC2" stroke="#000" stroke-width="1.25" stroke-linejoin="miter"/>
<circle cx="1582.5" cy="1574.3" r="4.05" fill="#EA6226" stroke="#000" stroke-width="1.2"/>
<circle cx="1573.4" cy="1579.6" r="4.05" fill="#EA6226" stroke="#000" stroke-width="1.2"/>
<circle cx="1569.1" cy="1590.8" r="4.05" fill="#EA6226" stroke="#000" stroke-width="1.2"/>
<circle cx="1578" cy="1596.9" r="4.05" fill="#EA6226" stroke="#000" stroke-width="1.2"/>
<circle cx="1569.1" cy="1601.8" r="4.05" fill="#EA6226" stroke="#000" stroke-width="1.2"/>
<circle cx="1587.3" cy="1603.9" r="4.05" fill="#EA6226" stroke="#000" stroke-width="1.2"/>
<circle cx="1578" cy="1609" r="4.05" fill="#EA6226" stroke="#000" stroke-width="1.2"/>
<circle cx="1578" cy="1626.8" r="4.05" fill="#EA6226" stroke="#000" stroke-width="1.2"/>
<circle cx="1578" cy="1641.9" r="4.05" fill="#EA6226" stroke="#000" stroke-width="1.2"/>
<rect x="1605.7" y="1550.1" width="7.8" height="7.8" fill="#F5A24A" stroke="#000" stroke-width="1.25"/>
<rect x="1624.1" y="1553.8" width="7.8" height="7.8" fill="#F5A24A" stroke="#000" stroke-width="1.25"/>
<rect x="1605.7" y="1573.4" width="7.8" height="7.8" fill="#F5A24A" stroke="#000" stroke-width="1.25"/>
<rect x="1624.1" y="1579.5" width="7.8" height="7.8" fill="#F5A24A" stroke="#000" stroke-width="1.25"/>
<rect x="1614.9" y="1593.5" width="7.8" height="7.8" fill="#F5A24A" stroke="#000" stroke-width="1.25"/>
<rect x="1624.1" y="1603.3" width="7.8" height="7.8" fill="#F5A24A" stroke="#000" stroke-width="1.25"/>
<rect x="1605.7" y="1607" width="7.8" height="7.8" fill="#F5A24A" stroke="#000" stroke-width="1.25"/>
<polygon points="1650.3,1569.49 1654.73,1577.69 1645.87,1577.69" fill="#FCDFC2" stroke="#000" stroke-width="1.25" stroke-linejoin="miter"/>
<polygon points="1662.3,1569.09 1666.73,1577.29 1657.87,1577.29" fill="#FCDFC2" stroke="#000" stroke-width="1.25" stroke-linejoin="miter"/>
<polygon points="1668.8,1570.49 1673.23,1578.69 1664.37,1578.69" fill="#FCDFC2" stroke="#000" stroke-width="1.25" stroke-linejoin="miter"/>
<polygon points="1656,1575.59 1660.43,1583.79 1651.57,1583.79" fill="#FCDFC2" stroke="#000" stroke-width="1.25" stroke-linejoin="miter"/>
<polygon points="1662.3,1584.49 1666.73,1592.69 1657.87,1592.69" fill="#FCDFC2" stroke="#000" stroke-width="1.25" stroke-linejoin="miter"/>
<polygon points="1656,1591.49 1660.43,1599.69 1651.57,1599.69" fill="#FCDFC2" stroke="#000" stroke-width="1.25" stroke-linejoin="miter"/>
<polygon points="1662.3,1596.59 1666.73,1604.79 1657.87,1604.79" fill="#FCDFC2" stroke="#000" stroke-width="1.25" stroke-linejoin="miter"/>
<polygon points="1656,1615.69 1660.43,1623.89 1651.57,1623.89" fill="#FCDFC2" stroke="#000" stroke-width="1.25" stroke-linejoin="miter"/>
<polygon points="1662.3,1617.59 1666.73,1625.79 1657.87,1625.79" fill="#FCDFC2" stroke="#000" stroke-width="1.25" stroke-linejoin="miter"/>
<polygon points="1656,1625.49 1660.43,1633.69 1651.57,1633.69" fill="#FCDFC2" stroke="#000" stroke-width="1.25" stroke-linejoin="miter"/>
<polygon points="1662.3,1632.99 1666.73,1641.19 1657.87,1641.19" fill="#FCDFC2" stroke="#000" stroke-width="1.25" stroke-linejoin="miter"/>
<polygon points="1659.1,1685.69 1663.53,1693.89 1654.67,1693.89" fill="#FCDFC2" stroke="#000" stroke-width="1.25" stroke-linejoin="miter"/>
<line x1="1320.3" y1="1813.5" x2="1428.5" y2="1813.5" stroke="#000" stroke-width="2.2"/>
<text x="1374.6" y="1839.3" font-size="17.5" text-anchor="middle" fill="#111">1 d p.i.</text>
<line x1="1442.1" y1="1813.5" x2="1550.3" y2="1813.5" stroke="#000" stroke-width="2.2"/>
<text x="1496.4" y="1839.3" font-size="17.5" text-anchor="middle" fill="#111">3 d p.i.</text>
<line x1="1563.9" y1="1813.5" x2="1672.1" y2="1813.5" stroke="#000" stroke-width="2.2"/>
<text x="1618.2" y="1839.3" font-size="17.5" text-anchor="middle" fill="#111">6 d p.i.</text>
<text x="1248.7" y="1611.8" font-size="17.5" font-weight="bold" text-anchor="middle" transform="rotate(-90 1248.7 1611.8)">IL-2 [pg/g]</text>
<text x="1496.5" y="1445.7" font-size="17.5" text-anchor="middle" fill="#111">MRSA</text>
<text x="-1.2" y="1950.8" font-size="46" font-weight="bold">k</text>
<line x1="248.6" y1="1994.6" x2="248.6" y2="2356.6" stroke="#000" stroke-width="2.2" stroke-dasharray="11 8.6"/>
<line x1="373.4" y1="1994.6" x2="373.4" y2="2356.6" stroke="#000" stroke-width="2.2" stroke-dasharray="11 8.6"/>
<rect x="175.7" y="2174.7" width="20.9" height="0" fill="#F5A24A" stroke="#000" stroke-width="2"/>
<rect x="217" y="2165.8" width="21.4" height="8.9" fill="#FCDFC2" stroke="#000" stroke-width="2"/>
<rect x="300.2" y="2174.7" width="21.5" height="21.6" fill="#F5A24A" stroke="#000" stroke-width="2"/>
<rect x="342" y="2077.5" width="21.3" height="97.2" fill="#FCDFC2" stroke="#000" stroke-width="2"/>
<rect x="424.9" y="2174.7" width="21.9" height="11.2" fill="#F5A24A" stroke="#000" stroke-width="2"/>
<rect x="466.9" y="2174.7" width="21.3" height="24.7" fill="#FCDFC2" stroke="#000" stroke-width="2"/>
<line x1="108.3" y1="2174.7" x2="514.2" y2="2174.7" stroke="#000" stroke-width="2.2"/>
<circle cx="143.5" cy="2143.7" r="3" fill="#EA6226" stroke="#000" stroke-width="1.9"/>
<circle cx="140.4" cy="2150.1" r="3" fill="#EA6226" stroke="#000" stroke-width="1.9"/>
<circle cx="142.7" cy="2177.3" r="3" fill="#EA6226" stroke="#000" stroke-width="1.9"/>
<circle cx="144" cy="2227.8" r="3" fill="#EA6226" stroke="#000" stroke-width="1.9"/>
<rect x="187.2" y="2129.6" width="5.6" height="5.6" fill="#F5A24A" stroke="#000" stroke-width="1.9"/>
<rect x="185.6" y="2178.7" width="5.6" height="5.6" fill="#F5A24A" stroke="#000" stroke-width="1.9"/>
<rect x="180.3" y="2187.9" width="5.6" height="5.6" fill="#F5A24A" stroke="#000" stroke-width="1.9"/>
<rect x="186.6" y="2191.4" width="5.6" height="5.6" fill="#F5A24A" stroke="#000" stroke-width="1.9"/>
<polygon points="224.5,2151.37 228.06,2157.97 220.94,2157.97" fill="#FCDFC2" stroke="#000" stroke-width="1.9" stroke-linejoin="miter"/>
<polygon points="230,2155.77 233.56,2162.37 226.44,2162.37" fill="#FCDFC2" stroke="#000" stroke-width="1.9" stroke-linejoin="miter"/>
<polygon points="226.4,2163.57 229.96,2170.17 222.84,2170.17" fill="#FCDFC2" stroke="#000" stroke-width="1.9" stroke-linejoin="miter"/>
<polygon points="227.8,2176.07 231.36,2182.67 224.24,2182.67" fill="#FCDFC2" stroke="#000" stroke-width="1.9" stroke-linejoin="miter"/>
<circle cx="266.4" cy="2150.7" r="3" fill="#EA6226" stroke="#000" stroke-width="1.9"/>
<circle cx="265.2" cy="2167.2" r="3" fill="#EA6226" stroke="#000" stroke-width="1.9"/>
<circle cx="268.6" cy="2173.8" r="3" fill="#EA6226" stroke="#000" stroke-width="1.9"/>
<circle cx="268.1" cy="2207.3" r="3" fill="#EA6226" stroke="#000" stroke-width="1.9"/>
<rect x="305.4" y="2174" width="5.6" height="5.6" fill="#F5A24A" stroke="#000" stroke-width="1.9"/>
<rect x="306.7" y="2181" width="5.6" height="5.6" fill="#F5A24A" stroke="#000" stroke-width="1.9"/>
<rect x="305.4" y="2195.7" width="5.6" height="5.6" fill="#F5A24A" stroke="#000" stroke-width="1.9"/>
<rect x="309.2" y="2224.5" width="5.6" height="5.6" fill="#F5A24A" stroke="#000" stroke-width="1.9"/>
<polygon points="350.3,2008.57 353.86,2015.17 346.74,2015.17" fill="#FCDFC2" stroke="#000" stroke-width="1.9" stroke-linejoin="miter"/>
<polygon points="352.3,2051.77 355.86,2058.37 348.74,2058.37" fill="#FCDFC2" stroke="#000" stroke-width="1.9" stroke-linejoin="miter"/>
<polygon points="351.8,2110.97 355.36,2117.57 348.24,2117.57" fill="#FCDFC2" stroke="#000" stroke-width="1.9" stroke-linejoin="miter"/>
<polygon points="352.3,2123.17 355.86,2129.77 348.74,2129.77" fill="#FCDFC2" stroke="#000" stroke-width="1.9" stroke-linejoin="miter"/>
<circle cx="390.7" cy="2092.5" r="3" fill="#EA6226" stroke="#000" stroke-width="1.9"/>
<circle cx="397.7" cy="2094.1" r="3" fill="#EA6226" stroke="#000" stroke-width="1.9"/>
<circle cx="392.2" cy="2231.3" r="3" fill="#EA6226" stroke="#000" stroke-width="1.9"/>
<circle cx="391.3" cy="2281.7" r="3" fill="#EA6226" stroke="#000" stroke-width="1.9"/>
<rect x="434.3" y="2141.2" width="5.6" height="5.6" fill="#F5A24A" stroke="#000" stroke-width="1.9"/>
<rect x="429.2" y="2148.4" width="5.6" height="5.6" fill="#F5A24A" stroke="#000" stroke-width="1.9"/>
<rect x="430.7" y="2196.6" width="5.6" height="5.6" fill="#F5A24A" stroke="#000" stroke-width="1.9"/>
<rect x="432.2" y="2243.6" width="5.6" height="5.6" fill="#F5A24A" stroke="#000" stroke-width="1.9"/>
<polygon points="477.6,2121.27 481.16,2127.87 474.04,2127.87" fill="#FCDFC2" stroke="#000" stroke-width="1.9" stroke-linejoin="miter"/>
<polygon points="474.1,2163.87 477.66,2170.47 470.54,2170.47" fill="#FCDFC2" stroke="#000" stroke-width="1.9" stroke-linejoin="miter"/>
<polygon points="480.8,2239.97 484.36,2246.57 477.24,2246.57" fill="#FCDFC2" stroke="#000" stroke-width="1.9" stroke-linejoin="miter"/>
<polygon points="478.7,2256.77 482.26,2263.37 475.14,2263.37" fill="#FCDFC2" stroke="#000" stroke-width="1.9" stroke-linejoin="miter"/>
<line x1="108.3" y1="1995.6" x2="108.3" y2="2353.8" stroke="#000" stroke-width="2.3"/>
<line x1="101.8" y1="2352.8" x2="108.3" y2="2352.8" stroke="#000" stroke-width="2.3"/>
<text x="94.5" y="2358.3" font-size="17" font-weight="bold" text-anchor="end">-2</text>
<line x1="101.8" y1="2263.75" x2="108.3" y2="2263.75" stroke="#000" stroke-width="2.3"/>
<text x="94.5" y="2269.25" font-size="17" font-weight="bold" text-anchor="end">-1</text>
<line x1="101.8" y1="2174.7" x2="108.3" y2="2174.7" stroke="#000" stroke-width="2.3"/>
<text x="94.5" y="2180.2" font-size="17" font-weight="bold" text-anchor="end">0</text>
<line x1="101.8" y1="2085.65" x2="108.3" y2="2085.65" stroke="#000" stroke-width="2.3"/>
<text x="94.5" y="2091.15" font-size="17" font-weight="bold" text-anchor="end">1</text>
<line x1="101.8" y1="1996.6" x2="108.3" y2="1996.6" stroke="#000" stroke-width="2.3"/>
<text x="94.5" y="2002.1" font-size="17" font-weight="bold" text-anchor="end">2</text>
<line x1="108.3" y1="2358.6" x2="514.2" y2="2358.6" stroke="#000" stroke-width="2.3"/>
<line x1="144.6" y1="2358.6" x2="144.6" y2="2366.6" stroke="#000" stroke-width="2.3"/>
<text x="153.2" y="2386.6" font-size="16.5" font-weight="bold" text-anchor="end" transform="rotate(-45 153.2 2386.6)">PBS</text>
<line x1="186.24" y1="2358.6" x2="186.24" y2="2366.6" stroke="#000" stroke-width="2.3"/>
<text x="201.84" y="2378.8" font-size="16.5" font-weight="bold" text-anchor="end" transform="rotate(-45 201.84 2378.8)">Poly(I:C)</text>
<line x1="227.88" y1="2358.6" x2="227.88" y2="2366.6" stroke="#000" stroke-width="2.3"/>
<text x="236.48" y="2386.6" font-size="16.5" font-weight="bold" text-anchor="end" transform="rotate(-45 236.48 2386.6)">IAV</text>
<line x1="269.52" y1="2358.6" x2="269.52" y2="2366.6" stroke="#000" stroke-width="2.3"/>
<text x="278.12" y="2386.6" font-size="16.5" font-weight="bold" text-anchor="end" transform="rotate(-45 278.12 2386.6)">PBS</text>
<line x1="311.16" y1="2358.6" x2="311.16" y2="2366.6" stroke="#000" stroke-width="2.3"/>
<text x="326.76" y="2378.8" font-size="16.5" font-weight="bold" text-anchor="end" transform="rotate(-45 326.76 2378.8)">Poly(I:C)</text>
<line x1="352.8" y1="2358.6" x2="352.8" y2="2366.6" stroke="#000" stroke-width="2.3"/>
<text x="361.4" y="2386.6" font-size="16.5" font-weight="bold" text-anchor="end" transform="rotate(-45 361.4 2386.6)">IAV</text>
<line x1="394.44" y1="2358.6" x2="394.44" y2="2366.6" stroke="#000" stroke-width="2.3"/>
<text x="403.04" y="2386.6" font-size="16.5" font-weight="bold" text-anchor="end" transform="rotate(-45 403.04 2386.6)">PBS</text>
<line x1="436.08" y1="2358.6" x2="436.08" y2="2366.6" stroke="#000" stroke-width="2.3"/>
<text x="451.68" y="2378.8" font-size="16.5" font-weight="bold" text-anchor="end" transform="rotate(-45 451.68 2378.8)">Poly(I:C)</text>
<line x1="477.72" y1="2358.6" x2="477.72" y2="2366.6" stroke="#000" stroke-width="2.3"/>
<text x="486.32" y="2386.6" font-size="16.5" font-weight="bold" text-anchor="end" transform="rotate(-45 486.32 2386.6)">IAV</text>
<line x1="118.7" y1="2434.1" x2="228" y2="2434.1" stroke="#000" stroke-width="2.2"/>
<text x="173.5" y="2458.6" font-size="17.5" text-anchor="middle" fill="#111">1 d p.i.</text>
<line x1="248.4" y1="2434.1" x2="355.8" y2="2434.1" stroke="#000" stroke-width="2.2"/>
<text x="301.3" y="2458.6" font-size="17.5" text-anchor="middle" fill="#111">3 d p.i.</text>
<line x1="376.1" y1="2434.1" x2="484.1" y2="2434.1" stroke="#000" stroke-width="2.2"/>
<text x="429.3" y="2458.6" font-size="17.5" text-anchor="middle" fill="#111">6 d p.i.</text>
<line x1="277.3" y1="1986.5" x2="350.4" y2="1986.5" stroke="#000" stroke-width="1.5"/>
<text x="313.3" y="1991.7" font-size="29" text-anchor="middle">*</text>
<text x="64.5" y="2164.7" font-size="19.7" font-weight="bold" text-anchor="middle" transform="rotate(-90 64.5 2164.7)">log10 fold-change vs. PBS</text>
<text x="292.6" y="1948.8" font-size="22" text-anchor="middle" fill="#111">IBV</text>
<text x="600.3" y="1968.9" font-size="46" font-weight="bold">l</text>
<line x1="853.5" y1="1996.6" x2="853.5" y2="2355" stroke="#000" stroke-width="2.2" stroke-dasharray="11 8.6"/>
<line x1="978.3" y1="1996.6" x2="978.3" y2="2355" stroke="#000" stroke-width="2.2" stroke-dasharray="11 8.6"/>
<rect x="780.5" y="2172.55" width="21" height="29.65" fill="#F5A24A" stroke="#000" stroke-width="2"/>
<rect x="822" y="2172.55" width="21.7" height="2.05" fill="#FCDFC2" stroke="#000" stroke-width="2"/>
<rect x="905.4" y="2172.55" width="21.2" height="32.05" fill="#F5A24A" stroke="#000" stroke-width="2"/>
<rect x="947.2" y="2151.5" width="21.2" height="21.05" fill="#FCDFC2" stroke="#000" stroke-width="2"/>
<rect x="1072" y="2104.5" width="21.3" height="68.05" fill="#FCDFC2" stroke="#000" stroke-width="2"/>
<line x1="713.5" y1="2172.55" x2="1119.2" y2="2172.55" stroke="#000" stroke-width="2.2"/>
<circle cx="748.2" cy="2054.4" r="3" fill="#EA6226" stroke="#000" stroke-width="1.9"/>
<circle cx="751.8" cy="2147.1" r="3" fill="#EA6226" stroke="#000" stroke-width="1.9"/>
<circle cx="751.6" cy="2165" r="3" fill="#EA6226" stroke="#000" stroke-width="1.9"/>
<circle cx="746.3" cy="2168" r="3" fill="#EA6226" stroke="#000" stroke-width="1.9"/>
<circle cx="754.1" cy="2186.1" r="3" fill="#EA6226" stroke="#000" stroke-width="1.9"/>
<circle cx="748.6" cy="2190.2" r="3" fill="#EA6226" stroke="#000" stroke-width="1.9"/>
<circle cx="744.6" cy="2195.9" r="3" fill="#EA6226" stroke="#000" stroke-width="1.9"/>
<circle cx="755.7" cy="2194.3" r="3" fill="#EA6226" stroke="#000" stroke-width="1.9"/>
<circle cx="750.5" cy="2197.3" r="3" fill="#EA6226" stroke="#000" stroke-width="1.9"/>
<circle cx="747.6" cy="2223.5" r="3" fill="#EA6226" stroke="#000" stroke-width="1.9"/>
<rect x="785" y="2147.6" width="5.6" height="5.6" fill="#F5A24A" stroke="#000" stroke-width="1.9"/>
<rect x="791.8" y="2149.2" width="5.6" height="5.6" fill="#F5A24A" stroke="#000" stroke-width="1.9"/>
<rect x="784.5" y="2165" width="5.6" height="5.6" fill="#F5A24A" stroke="#000" stroke-width="1.9"/>
<rect x="790.5" y="2193.5" width="5.6" height="5.6" fill="#F5A24A" stroke="#000" stroke-width="1.9"/>
<rect x="791.5" y="2206.7" width="5.6" height="5.6" fill="#F5A24A" stroke="#000" stroke-width="1.9"/>
<rect x="790.9" y="2228.9" width="5.6" height="5.6" fill="#F5A24A" stroke="#000" stroke-width="1.9"/>
<rect x="786.5" y="2304.3" width="5.6" height="5.6" fill="#F5A24A" stroke="#000" stroke-width="1.9"/>
<polygon points="831,2074.17 834.56,2080.77 827.44,2080.77" fill="#FCDFC2" stroke="#000" stroke-width="1.9" stroke-linejoin="miter"/>
<polygon points="830,2106.17 833.56,2112.77 826.44,2112.77" fill="#FCDFC2" stroke="#000" stroke-width="1.9" stroke-linejoin="miter"/>
<polygon points="834.8,2148.37 838.36,2154.97 831.24,2154.97" fill="#FCDFC2" stroke="#000" stroke-width="1.9" stroke-linejoin="miter"/>
<polygon points="829,2155.87 832.56,2162.47 825.44,2162.47" fill="#FCDFC2" stroke="#000" stroke-width="1.9" stroke-linejoin="miter"/>
<polygon points="836.1,2159.77 839.66,2166.37 832.54,2166.37" fill="#FCDFC2" stroke="#000" stroke-width="1.9" stroke-linejoin="miter"/>
<polygon points="830,2167.47 833.56,2174.07 826.44,2174.07" fill="#FCDFC2" stroke="#000" stroke-width="1.9" stroke-linejoin="miter"/>
<polygon points="827.8,2181.27 831.36,2187.87 824.24,2187.87" fill="#FCDFC2" stroke="#000" stroke-width="1.9" stroke-linejoin="miter"/>
<polygon points="837,2181.27 840.56,2187.87 833.44,2187.87" fill="#FCDFC2" stroke="#000" stroke-width="1.9" stroke-linejoin="miter"/>
<polygon points="834,2188.77 837.56,2195.37 830.44,2195.37" fill="#FCDFC2" stroke="#000" stroke-width="1.9" stroke-linejoin="miter"/>
<polygon points="828.8,2200.77 832.36,2207.37 825.24,2207.37" fill="#FCDFC2" stroke="#000" stroke-width="1.9" stroke-linejoin="miter"/>
<polygon points="830.4,2302.87 833.96,2309.47 826.84,2309.47" fill="#FCDFC2" stroke="#000" stroke-width="1.9" stroke-linejoin="miter"/>
<circle cx="877.3" cy="2121.6" r="3" fill="#EA6226" stroke="#000" stroke-width="1.9"/>
<circle cx="873.9" cy="2146.3" r="3" fill="#EA6226" stroke="#000" stroke-width="1.9"/>
<circle cx="875.8" cy="2151.5" r="3" fill="#EA6226" stroke="#000" stroke-width="1.9"/>
<circle cx="871.1" cy="2212.8" r="3" fill="#EA6226" stroke="#000" stroke-width="1.9"/>
<circle cx="875.4" cy="2212.8" r="3" fill="#EA6226" stroke="#000" stroke-width="1.9"/>
<rect x="914.4" y="2151.9" width="5.6" height="5.6" fill="#F5A24A" stroke="#000" stroke-width="1.9"/>
<rect x="910.4" y="2210" width="5.6" height="5.6" fill="#F5A24A" stroke="#000" stroke-width="1.9"/>
<rect x="915.8" y="2210" width="5.6" height="5.6" fill="#F5A24A" stroke="#000" stroke-width="1.9"/>
<polygon points="959,2004.77 962.56,2011.37 955.44,2011.37" fill="#FCDFC2" stroke="#000" stroke-width="1.9" stroke-linejoin="miter"/>
<polygon points="956.2,2023.37 959.76,2029.97 952.64,2029.97" fill="#FCDFC2" stroke="#000" stroke-width="1.9" stroke-linejoin="miter"/>
<polygon points="959,2038.17 962.56,2044.77 955.44,2044.77" fill="#FCDFC2" stroke="#000" stroke-width="1.9" stroke-linejoin="miter"/>
<polygon points="957.8,2114.87 961.36,2121.47 954.24,2121.47" fill="#FCDFC2" stroke="#000" stroke-width="1.9" stroke-linejoin="miter"/>
<polygon points="956.7,2132.27 960.26,2138.87 953.14,2138.87" fill="#FCDFC2" stroke="#000" stroke-width="1.9" stroke-linejoin="miter"/>
<polygon points="955.5,2141.77 959.06,2148.37 951.94,2148.37" fill="#FCDFC2" stroke="#000" stroke-width="1.9" stroke-linejoin="miter"/>
<polygon points="953.2,2208.47 956.76,2215.07 949.64,2215.07" fill="#FCDFC2" stroke="#000" stroke-width="1.9" stroke-linejoin="miter"/>
<polygon points="958.6,2208.47 962.16,2215.07 955.04,2215.07" fill="#FCDFC2" stroke="#000" stroke-width="1.9" stroke-linejoin="miter"/>
<circle cx="997.2" cy="2172" r="3" fill="#EA6226" stroke="#000" stroke-width="1.9"/>
<circle cx="1001.5" cy="2172" r="3" fill="#EA6226" stroke="#000" stroke-width="1.9"/>
<rect x="1034.9" y="2169.2" width="5.6" height="5.6" fill="#F5A24A" stroke="#000" stroke-width="1.9"/>
<rect x="1038" y="2169.2" width="5.6" height="5.6" fill="#F5A24A" stroke="#000" stroke-width="1.9"/>
<polygon points="1080.8,1999.87 1084.36,2006.47 1077.24,2006.47" fill="#FCDFC2" stroke="#000" stroke-width="1.9" stroke-linejoin="miter"/>
<polygon points="1081.3,2008.57 1084.86,2015.17 1077.74,2015.17" fill="#FCDFC2" stroke="#000" stroke-width="1.9" stroke-linejoin="miter"/>
<polygon points="1083.8,2046.87 1087.36,2053.47 1080.24,2053.47" fill="#FCDFC2" stroke="#000" stroke-width="1.9" stroke-linejoin="miter"/>
<polygon points="1082.3,2085.27 1085.86,2091.87 1078.74,2091.87" fill="#FCDFC2" stroke="#000" stroke-width="1.9" stroke-linejoin="miter"/>
<polygon points="1083.1,2092.17 1086.66,2098.77 1079.54,2098.77" fill="#FCDFC2" stroke="#000" stroke-width="1.9" stroke-linejoin="miter"/>
<polygon points="1078.5,2168.37 1082.06,2174.97 1074.94,2174.97" fill="#FCDFC2" stroke="#000" stroke-width="1.9" stroke-linejoin="miter"/>
<polygon points="1083.1,2168.37 1086.66,2174.97 1079.54,2174.97" fill="#FCDFC2" stroke="#000" stroke-width="1.9" stroke-linejoin="miter"/>
<polygon points="1085,2168.37 1088.56,2174.97 1081.44,2174.97" fill="#FCDFC2" stroke="#000" stroke-width="1.9" stroke-linejoin="miter"/>
<line x1="713.5" y1="1997.6" x2="713.5" y2="2347.5" stroke="#000" stroke-width="2.3"/>
<line x1="707" y1="2346.5" x2="713.5" y2="2346.5" stroke="#000" stroke-width="2.3"/>
<text x="694.5" y="2352" font-size="17" font-weight="bold" text-anchor="end">-6</text>
<line x1="707" y1="2288.52" x2="713.5" y2="2288.52" stroke="#000" stroke-width="2.3"/>
<text x="694.5" y="2294.02" font-size="17" font-weight="bold" text-anchor="end">-4</text>
<line x1="707" y1="2230.53" x2="713.5" y2="2230.53" stroke="#000" stroke-width="2.3"/>
<text x="694.5" y="2236.03" font-size="17" font-weight="bold" text-anchor="end">-2</text>
<line x1="707" y1="2172.55" x2="713.5" y2="2172.55" stroke="#000" stroke-width="2.3"/>
<text x="694.5" y="2178.05" font-size="17" font-weight="bold" text-anchor="end">0</text>
<line x1="707" y1="2114.57" x2="713.5" y2="2114.57" stroke="#000" stroke-width="2.3"/>
<text x="694.5" y="2120.07" font-size="17" font-weight="bold" text-anchor="end">2</text>
<line x1="707" y1="2056.58" x2="713.5" y2="2056.58" stroke="#000" stroke-width="2.3"/>
<text x="694.5" y="2062.08" font-size="17" font-weight="bold" text-anchor="end">4</text>
<line x1="707" y1="1998.6" x2="713.5" y2="1998.6" stroke="#000" stroke-width="2.3"/>
<text x="694.5" y="2004.1" font-size="17" font-weight="bold" text-anchor="end">6</text>
<line x1="713.5" y1="2357" x2="1119.2" y2="2357" stroke="#000" stroke-width="2.3"/>
<line x1="748.9" y1="2357" x2="748.9" y2="2365" stroke="#000" stroke-width="2.3"/>
<text x="757.5" y="2381" font-size="16.5" font-weight="bold" text-anchor="end" transform="rotate(-45 757.5 2381)">PBS</text>
<line x1="790.57" y1="2357" x2="790.57" y2="2365" stroke="#000" stroke-width="2.3"/>
<text x="805.67" y="2373" font-size="16.5" font-weight="bold" text-anchor="end" transform="rotate(-45 805.67 2373)">Poly(I:C)</text>
<line x1="832.24" y1="2357" x2="832.24" y2="2365" stroke="#000" stroke-width="2.3"/>
<text x="840.84" y="2381" font-size="16.5" font-weight="bold" text-anchor="end" transform="rotate(-45 840.84 2381)">IAV</text>
<line x1="873.91" y1="2357" x2="873.91" y2="2365" stroke="#000" stroke-width="2.3"/>
<text x="882.51" y="2381" font-size="16.5" font-weight="bold" text-anchor="end" transform="rotate(-45 882.51 2381)">PBS</text>
<line x1="915.58" y1="2357" x2="915.58" y2="2365" stroke="#000" stroke-width="2.3"/>
<text x="930.68" y="2373" font-size="16.5" font-weight="bold" text-anchor="end" transform="rotate(-45 930.68 2373)">Poly(I:C)</text>
<line x1="957.25" y1="2357" x2="957.25" y2="2365" stroke="#000" stroke-width="2.3"/>
<text x="965.85" y="2381" font-size="16.5" font-weight="bold" text-anchor="end" transform="rotate(-45 965.85 2381)">IAV</text>
<line x1="998.92" y1="2357" x2="998.92" y2="2365" stroke="#000" stroke-width="2.3"/>
<text x="1007.52" y="2381" font-size="16.5" font-weight="bold" text-anchor="end" transform="rotate(-45 1007.52 2381)">PBS</text>
<line x1="1040.59" y1="2357" x2="1040.59" y2="2365" stroke="#000" stroke-width="2.3"/>
<text x="1055.69" y="2373" font-size="16.5" font-weight="bold" text-anchor="end" transform="rotate(-45 1055.69 2373)">Poly(I:C)</text>
<line x1="1082.26" y1="2357" x2="1082.26" y2="2365" stroke="#000" stroke-width="2.3"/>
<text x="1090.86" y="2381" font-size="16.5" font-weight="bold" text-anchor="end" transform="rotate(-45 1090.86 2381)">IAV</text>
<line x1="724.5" y1="2432.5" x2="833.2" y2="2432.5" stroke="#000" stroke-width="2.2"/>
<text x="778.9" y="2457" font-size="17.5" text-anchor="middle" fill="#111">1 d p.i.</text>
<line x1="853.4" y1="2432.5" x2="961.4" y2="2432.5" stroke="#000" stroke-width="2.2"/>
<text x="906.8" y="2457" font-size="17.5" text-anchor="middle" fill="#111">3 d p.i.</text>
<line x1="982.3" y1="2432.5" x2="1089.6" y2="2432.5" stroke="#000" stroke-width="2.2"/>
<text x="1035.8" y="2457" font-size="17.5" text-anchor="middle" fill="#111">6 d p.i.</text>
<line x1="885.3" y1="1986.6" x2="958.3" y2="1986.6" stroke="#000" stroke-width="1.5"/>
<text x="921.4" y="1991.7" font-size="29" text-anchor="middle">*</text>
<line x1="1008.8" y1="1986.6" x2="1081.9" y2="1986.6" stroke="#000" stroke-width="1.5"/>
<text x="1045.4" y="1991.7" font-size="29" text-anchor="middle">*</text>
<text x="662.6" y="2156" font-size="19.7" font-weight="bold" text-anchor="middle" transform="rotate(-90 662.6 2156)">log10 fold-change vs. PBS</text>
<text x="893.5" y="1941.8" font-size="22" text-anchor="middle" fill="#111" letter-spacing="0.8">MRSA</text>
<circle cx="1351.3" cy="2136" r="5.5" fill="#EA6226" stroke="#000" stroke-width="1.3"/>
<rect x="1345.8" y="2170.2" width="11" height="11" fill="#F5A24A" stroke="#000" stroke-width="1.3"/>
<polygon points="1351.3,2210.72 1356.97,2221.22 1345.63,2221.22" fill="#FCDFC2" stroke="#000" stroke-width="1.3" stroke-linejoin="miter"/>
<text x="1385.5" y="2143.5" font-size="23" fill="#222" letter-spacing="1.1">PBS</text>
<text x="1385.5" y="2183.9" font-size="23" fill="#222" letter-spacing="1.1">Poly(I:C)</text>
<text x="1385.5" y="2223.6" font-size="23" fill="#222" letter-spacing="1.1">IAV</text>
</svg>
</body></html>
